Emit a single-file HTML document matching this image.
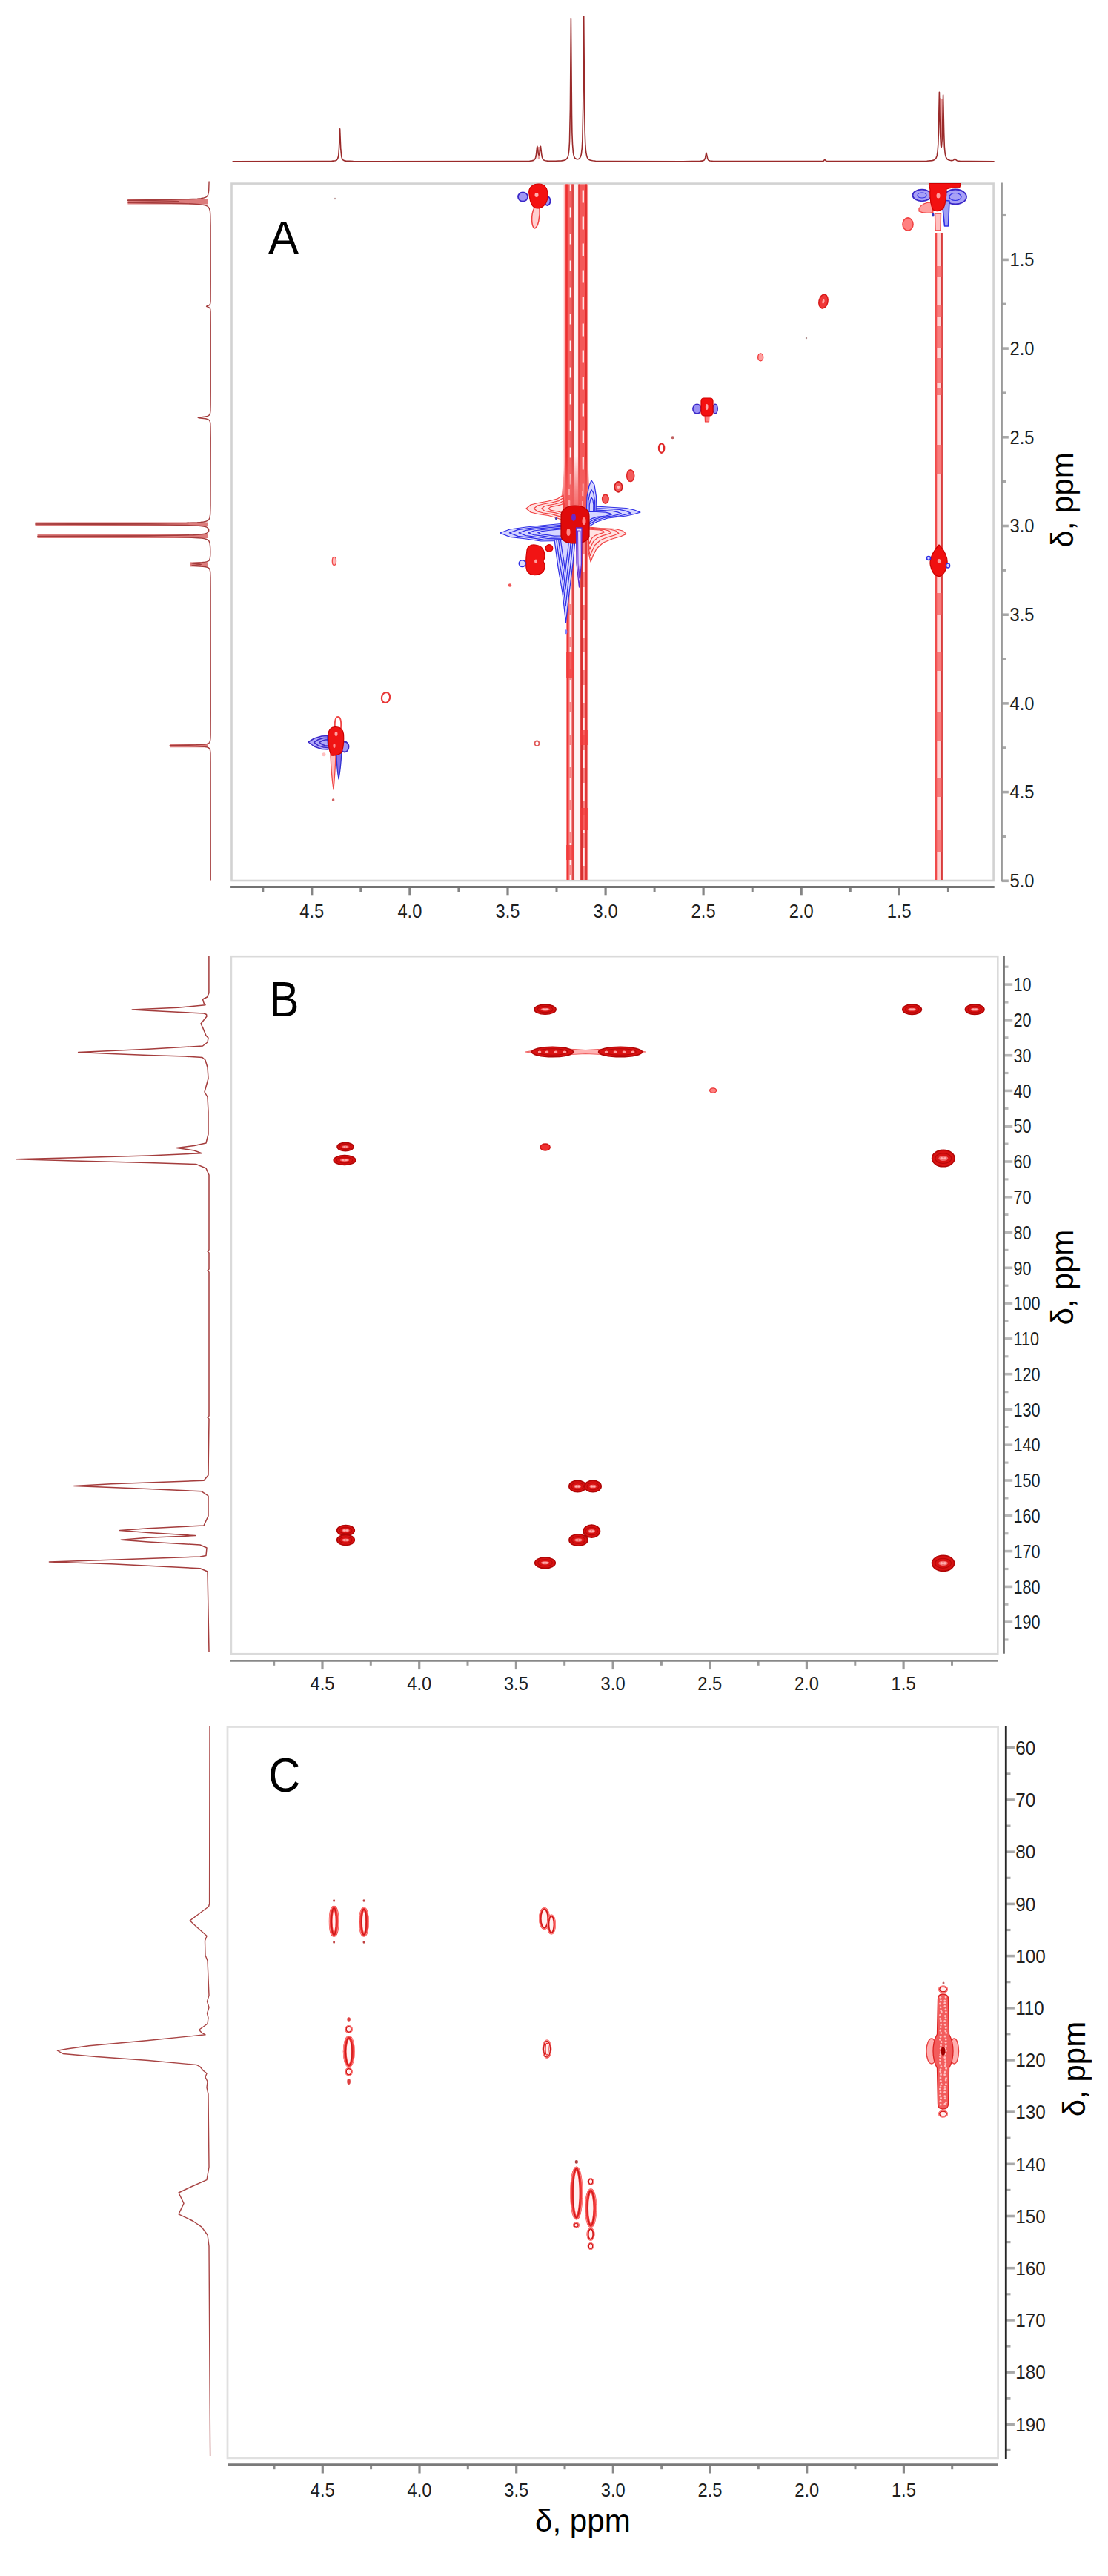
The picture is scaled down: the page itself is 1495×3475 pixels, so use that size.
<!DOCTYPE html><html><head><meta charset="utf-8"><style>html,body{margin:0;padding:0;background:#fff;overflow:hidden}svg{display:block}text{font-family:"Liberation Sans",sans-serif}</style></head><body>
<svg width="1495" height="3475" viewBox="0 0 1495 3475">
<rect width="1495" height="3475" fill="#fff"/>
<rect x="312.5" y="247.6" width="1028.1" height="940.4" fill="none" stroke="#d2d2d2" stroke-width="2.6"/>
<line x1="1351.5" y1="350.4" x2="1360.8" y2="350.4" stroke="#a8a8a8" stroke-width="3.6"/>
<text transform="translate(1362.5,359.2) scale(0.93,1)" font-size="25.5" fill="#1e1e1e">1.5</text>
<line x1="1351.5" y1="470.1" x2="1360.8" y2="470.1" stroke="#a8a8a8" stroke-width="3.6"/>
<text transform="translate(1362.5,478.9) scale(0.93,1)" font-size="25.5" fill="#1e1e1e">2.0</text>
<line x1="1351.5" y1="589.8" x2="1360.8" y2="589.8" stroke="#a8a8a8" stroke-width="3.6"/>
<text transform="translate(1362.5,598.6) scale(0.93,1)" font-size="25.5" fill="#1e1e1e">2.5</text>
<line x1="1351.5" y1="709.5" x2="1360.8" y2="709.5" stroke="#a8a8a8" stroke-width="3.6"/>
<text transform="translate(1362.5,718.3) scale(0.93,1)" font-size="25.5" fill="#1e1e1e">3.0</text>
<line x1="1351.5" y1="829.2" x2="1360.8" y2="829.2" stroke="#a8a8a8" stroke-width="3.6"/>
<text transform="translate(1362.5,838) scale(0.93,1)" font-size="25.5" fill="#1e1e1e">3.5</text>
<line x1="1351.5" y1="948.9" x2="1360.8" y2="948.9" stroke="#a8a8a8" stroke-width="3.6"/>
<text transform="translate(1362.5,957.7) scale(0.93,1)" font-size="25.5" fill="#1e1e1e">4.0</text>
<line x1="1351.5" y1="1068.6" x2="1360.8" y2="1068.6" stroke="#a8a8a8" stroke-width="3.6"/>
<text transform="translate(1362.5,1077.4) scale(0.93,1)" font-size="25.5" fill="#1e1e1e">4.5</text>
<line x1="1351.5" y1="1188.3" x2="1360.8" y2="1188.3" stroke="#a8a8a8" stroke-width="3.6"/>
<text transform="translate(1362.5,1197.1) scale(0.93,1)" font-size="25.5" fill="#1e1e1e">5.0</text>
<line x1="1351.5" y1="290.5" x2="1357.1" y2="290.5" stroke="#a8a8a8" stroke-width="3.2"/>
<line x1="1351.5" y1="410.2" x2="1357.1" y2="410.2" stroke="#a8a8a8" stroke-width="3.2"/>
<line x1="1351.5" y1="530" x2="1357.1" y2="530" stroke="#a8a8a8" stroke-width="3.2"/>
<line x1="1351.5" y1="649.6" x2="1357.1" y2="649.6" stroke="#a8a8a8" stroke-width="3.2"/>
<line x1="1351.5" y1="769.3" x2="1357.1" y2="769.3" stroke="#a8a8a8" stroke-width="3.2"/>
<line x1="1351.5" y1="889" x2="1357.1" y2="889" stroke="#a8a8a8" stroke-width="3.2"/>
<line x1="1351.5" y1="1008.8" x2="1357.1" y2="1008.8" stroke="#a8a8a8" stroke-width="3.2"/>
<line x1="1351.5" y1="1128.5" x2="1357.1" y2="1128.5" stroke="#a8a8a8" stroke-width="3.2"/>
<line x1="1351.5" y1="246.5" x2="1351.5" y2="1188.5" stroke="#9a9a9a" stroke-width="2.8"/>
<line x1="420.8" y1="1196.5" x2="420.8" y2="1208.3" stroke="#858585" stroke-width="3.2"/>
<text transform="translate(420.8,1237.5) scale(0.93,1)" font-size="25.5" fill="#1e1e1e" text-anchor="middle">4.5</text>
<line x1="552.9" y1="1196.5" x2="552.9" y2="1208.3" stroke="#858585" stroke-width="3.2"/>
<text transform="translate(552.9,1237.5) scale(0.93,1)" font-size="25.5" fill="#1e1e1e" text-anchor="middle">4.0</text>
<line x1="685" y1="1196.5" x2="685" y2="1208.3" stroke="#858585" stroke-width="3.2"/>
<text transform="translate(685,1237.5) scale(0.93,1)" font-size="25.5" fill="#1e1e1e" text-anchor="middle">3.5</text>
<line x1="817.1" y1="1196.5" x2="817.1" y2="1208.3" stroke="#858585" stroke-width="3.2"/>
<text transform="translate(817.1,1237.5) scale(0.93,1)" font-size="25.5" fill="#1e1e1e" text-anchor="middle">3.0</text>
<line x1="949.1" y1="1196.5" x2="949.1" y2="1208.3" stroke="#858585" stroke-width="3.2"/>
<text transform="translate(949.1,1237.5) scale(0.93,1)" font-size="25.5" fill="#1e1e1e" text-anchor="middle">2.5</text>
<line x1="1081.2" y1="1196.5" x2="1081.2" y2="1208.3" stroke="#858585" stroke-width="3.2"/>
<text transform="translate(1081.2,1237.5) scale(0.93,1)" font-size="25.5" fill="#1e1e1e" text-anchor="middle">2.0</text>
<line x1="1213.3" y1="1196.5" x2="1213.3" y2="1208.3" stroke="#858585" stroke-width="3.2"/>
<text transform="translate(1213.3,1237.5) scale(0.93,1)" font-size="25.5" fill="#1e1e1e" text-anchor="middle">1.5</text>
<line x1="354.8" y1="1196.5" x2="354.8" y2="1203" stroke="#858585" stroke-width="3"/>
<line x1="486.8" y1="1196.5" x2="486.8" y2="1203" stroke="#858585" stroke-width="3"/>
<line x1="618.9" y1="1196.5" x2="618.9" y2="1203" stroke="#858585" stroke-width="3"/>
<line x1="751" y1="1196.5" x2="751" y2="1203" stroke="#858585" stroke-width="3"/>
<line x1="883.1" y1="1196.5" x2="883.1" y2="1203" stroke="#858585" stroke-width="3"/>
<line x1="1015.2" y1="1196.5" x2="1015.2" y2="1203" stroke="#858585" stroke-width="3"/>
<line x1="1147.3" y1="1196.5" x2="1147.3" y2="1203" stroke="#858585" stroke-width="3"/>
<line x1="1279.4" y1="1196.5" x2="1279.4" y2="1203" stroke="#858585" stroke-width="3"/>
<line x1="311.1" y1="1196.5" x2="1341.7" y2="1196.5" stroke="#727272" stroke-width="2.8"/>
<rect x="311.9" y="1290.2" width="1034.4" height="941" fill="none" stroke="#dadada" stroke-width="2.6"/>
<line x1="1354.5" y1="1328.1" x2="1366.2" y2="1328.1" stroke="#b8b8b8" stroke-width="3.6"/>
<text transform="translate(1367.5,1337.3) scale(0.85,1)" font-size="25.5" fill="#1e1e1e">10</text>
<line x1="1354.5" y1="1375.9" x2="1366.2" y2="1375.9" stroke="#b8b8b8" stroke-width="3.6"/>
<text transform="translate(1367.5,1385.1) scale(0.85,1)" font-size="25.5" fill="#1e1e1e">20</text>
<line x1="1354.5" y1="1423.7" x2="1366.2" y2="1423.7" stroke="#b8b8b8" stroke-width="3.6"/>
<text transform="translate(1367.5,1432.9) scale(0.85,1)" font-size="25.5" fill="#1e1e1e">30</text>
<line x1="1354.5" y1="1471.4" x2="1366.2" y2="1471.4" stroke="#b8b8b8" stroke-width="3.6"/>
<text transform="translate(1367.5,1480.6) scale(0.85,1)" font-size="25.5" fill="#1e1e1e">40</text>
<line x1="1354.5" y1="1519.2" x2="1366.2" y2="1519.2" stroke="#b8b8b8" stroke-width="3.6"/>
<text transform="translate(1367.5,1528.4) scale(0.85,1)" font-size="25.5" fill="#1e1e1e">50</text>
<line x1="1354.5" y1="1567" x2="1366.2" y2="1567" stroke="#b8b8b8" stroke-width="3.6"/>
<text transform="translate(1367.5,1576.2) scale(0.85,1)" font-size="25.5" fill="#1e1e1e">60</text>
<line x1="1354.5" y1="1614.8" x2="1366.2" y2="1614.8" stroke="#b8b8b8" stroke-width="3.6"/>
<text transform="translate(1367.5,1624) scale(0.85,1)" font-size="25.5" fill="#1e1e1e">70</text>
<line x1="1354.5" y1="1662.6" x2="1366.2" y2="1662.6" stroke="#b8b8b8" stroke-width="3.6"/>
<text transform="translate(1367.5,1671.8) scale(0.85,1)" font-size="25.5" fill="#1e1e1e">80</text>
<line x1="1354.5" y1="1710.3" x2="1366.2" y2="1710.3" stroke="#b8b8b8" stroke-width="3.6"/>
<text transform="translate(1367.5,1719.5) scale(0.85,1)" font-size="25.5" fill="#1e1e1e">90</text>
<line x1="1354.5" y1="1758.1" x2="1366.2" y2="1758.1" stroke="#b8b8b8" stroke-width="3.6"/>
<text transform="translate(1367.5,1767.3) scale(0.85,1)" font-size="25.5" fill="#1e1e1e">100</text>
<line x1="1354.5" y1="1805.9" x2="1366.2" y2="1805.9" stroke="#b8b8b8" stroke-width="3.6"/>
<text transform="translate(1367.5,1815.1) scale(0.85,1)" font-size="25.5" fill="#1e1e1e">110</text>
<line x1="1354.5" y1="1853.7" x2="1366.2" y2="1853.7" stroke="#b8b8b8" stroke-width="3.6"/>
<text transform="translate(1367.5,1862.9) scale(0.85,1)" font-size="25.5" fill="#1e1e1e">120</text>
<line x1="1354.5" y1="1901.5" x2="1366.2" y2="1901.5" stroke="#b8b8b8" stroke-width="3.6"/>
<text transform="translate(1367.5,1910.7) scale(0.85,1)" font-size="25.5" fill="#1e1e1e">130</text>
<line x1="1354.5" y1="1949.2" x2="1366.2" y2="1949.2" stroke="#b8b8b8" stroke-width="3.6"/>
<text transform="translate(1367.5,1958.4) scale(0.85,1)" font-size="25.5" fill="#1e1e1e">140</text>
<line x1="1354.5" y1="1997" x2="1366.2" y2="1997" stroke="#b8b8b8" stroke-width="3.6"/>
<text transform="translate(1367.5,2006.2) scale(0.85,1)" font-size="25.5" fill="#1e1e1e">150</text>
<line x1="1354.5" y1="2044.8" x2="1366.2" y2="2044.8" stroke="#b8b8b8" stroke-width="3.6"/>
<text transform="translate(1367.5,2054) scale(0.85,1)" font-size="25.5" fill="#1e1e1e">160</text>
<line x1="1354.5" y1="2092.6" x2="1366.2" y2="2092.6" stroke="#b8b8b8" stroke-width="3.6"/>
<text transform="translate(1367.5,2101.8) scale(0.85,1)" font-size="25.5" fill="#1e1e1e">170</text>
<line x1="1354.5" y1="2140.4" x2="1366.2" y2="2140.4" stroke="#b8b8b8" stroke-width="3.6"/>
<text transform="translate(1367.5,2149.6) scale(0.85,1)" font-size="25.5" fill="#1e1e1e">180</text>
<line x1="1354.5" y1="2188.1" x2="1366.2" y2="2188.1" stroke="#b8b8b8" stroke-width="3.6"/>
<text transform="translate(1367.5,2197.3) scale(0.85,1)" font-size="25.5" fill="#1e1e1e">190</text>
<line x1="1354.5" y1="1304.2" x2="1360.5" y2="1304.2" stroke="#b8b8b8" stroke-width="3.2"/>
<line x1="1354.5" y1="1352" x2="1360.5" y2="1352" stroke="#b8b8b8" stroke-width="3.2"/>
<line x1="1354.5" y1="1399.8" x2="1360.5" y2="1399.8" stroke="#b8b8b8" stroke-width="3.2"/>
<line x1="1354.5" y1="1447.5" x2="1360.5" y2="1447.5" stroke="#b8b8b8" stroke-width="3.2"/>
<line x1="1354.5" y1="1495.3" x2="1360.5" y2="1495.3" stroke="#b8b8b8" stroke-width="3.2"/>
<line x1="1354.5" y1="1543.1" x2="1360.5" y2="1543.1" stroke="#b8b8b8" stroke-width="3.2"/>
<line x1="1354.5" y1="1590.9" x2="1360.5" y2="1590.9" stroke="#b8b8b8" stroke-width="3.2"/>
<line x1="1354.5" y1="1638.7" x2="1360.5" y2="1638.7" stroke="#b8b8b8" stroke-width="3.2"/>
<line x1="1354.5" y1="1686.4" x2="1360.5" y2="1686.4" stroke="#b8b8b8" stroke-width="3.2"/>
<line x1="1354.5" y1="1734.2" x2="1360.5" y2="1734.2" stroke="#b8b8b8" stroke-width="3.2"/>
<line x1="1354.5" y1="1782" x2="1360.5" y2="1782" stroke="#b8b8b8" stroke-width="3.2"/>
<line x1="1354.5" y1="1829.8" x2="1360.5" y2="1829.8" stroke="#b8b8b8" stroke-width="3.2"/>
<line x1="1354.5" y1="1877.6" x2="1360.5" y2="1877.6" stroke="#b8b8b8" stroke-width="3.2"/>
<line x1="1354.5" y1="1925.3" x2="1360.5" y2="1925.3" stroke="#b8b8b8" stroke-width="3.2"/>
<line x1="1354.5" y1="1973.1" x2="1360.5" y2="1973.1" stroke="#b8b8b8" stroke-width="3.2"/>
<line x1="1354.5" y1="2020.9" x2="1360.5" y2="2020.9" stroke="#b8b8b8" stroke-width="3.2"/>
<line x1="1354.5" y1="2068.7" x2="1360.5" y2="2068.7" stroke="#b8b8b8" stroke-width="3.2"/>
<line x1="1354.5" y1="2116.5" x2="1360.5" y2="2116.5" stroke="#b8b8b8" stroke-width="3.2"/>
<line x1="1354.5" y1="2164.2" x2="1360.5" y2="2164.2" stroke="#b8b8b8" stroke-width="3.2"/>
<line x1="1354.5" y1="2212" x2="1360.5" y2="2212" stroke="#b8b8b8" stroke-width="3.2"/>
<line x1="1354.5" y1="1289" x2="1354.5" y2="2230.8" stroke="#777" stroke-width="2.8"/>
<line x1="435" y1="2240.3" x2="435" y2="2252.1" stroke="#9a9a9a" stroke-width="3.2"/>
<text transform="translate(435,2280) scale(0.93,1)" font-size="25.5" fill="#1e1e1e" text-anchor="middle">4.5</text>
<line x1="565.7" y1="2240.3" x2="565.7" y2="2252.1" stroke="#9a9a9a" stroke-width="3.2"/>
<text transform="translate(565.7,2280) scale(0.93,1)" font-size="25.5" fill="#1e1e1e" text-anchor="middle">4.0</text>
<line x1="696.4" y1="2240.3" x2="696.4" y2="2252.1" stroke="#9a9a9a" stroke-width="3.2"/>
<text transform="translate(696.4,2280) scale(0.93,1)" font-size="25.5" fill="#1e1e1e" text-anchor="middle">3.5</text>
<line x1="827.1" y1="2240.3" x2="827.1" y2="2252.1" stroke="#9a9a9a" stroke-width="3.2"/>
<text transform="translate(827.1,2280) scale(0.93,1)" font-size="25.5" fill="#1e1e1e" text-anchor="middle">3.0</text>
<line x1="957.7" y1="2240.3" x2="957.7" y2="2252.1" stroke="#9a9a9a" stroke-width="3.2"/>
<text transform="translate(957.7,2280) scale(0.93,1)" font-size="25.5" fill="#1e1e1e" text-anchor="middle">2.5</text>
<line x1="1088.4" y1="2240.3" x2="1088.4" y2="2252.1" stroke="#9a9a9a" stroke-width="3.2"/>
<text transform="translate(1088.4,2280) scale(0.93,1)" font-size="25.5" fill="#1e1e1e" text-anchor="middle">2.0</text>
<line x1="1219.1" y1="2240.3" x2="1219.1" y2="2252.1" stroke="#9a9a9a" stroke-width="3.2"/>
<text transform="translate(1219.1,2280) scale(0.93,1)" font-size="25.5" fill="#1e1e1e" text-anchor="middle">1.5</text>
<line x1="369.7" y1="2240.3" x2="369.7" y2="2246.8" stroke="#9a9a9a" stroke-width="3"/>
<line x1="500.3" y1="2240.3" x2="500.3" y2="2246.8" stroke="#9a9a9a" stroke-width="3"/>
<line x1="631" y1="2240.3" x2="631" y2="2246.8" stroke="#9a9a9a" stroke-width="3"/>
<line x1="761.7" y1="2240.3" x2="761.7" y2="2246.8" stroke="#9a9a9a" stroke-width="3"/>
<line x1="892.4" y1="2240.3" x2="892.4" y2="2246.8" stroke="#9a9a9a" stroke-width="3"/>
<line x1="1023.1" y1="2240.3" x2="1023.1" y2="2246.8" stroke="#9a9a9a" stroke-width="3"/>
<line x1="1153.8" y1="2240.3" x2="1153.8" y2="2246.8" stroke="#9a9a9a" stroke-width="3"/>
<line x1="1284.5" y1="2240.3" x2="1284.5" y2="2246.8" stroke="#9a9a9a" stroke-width="3"/>
<line x1="310.3" y1="2240.3" x2="1347" y2="2240.3" stroke="#888" stroke-width="2.8"/>
<rect x="307" y="2329.5" width="1039.6" height="986.3" fill="none" stroke="#e0e0e0" stroke-width="2.8"/>
<line x1="1357.3" y1="2357.8" x2="1368.9" y2="2357.8" stroke="#a8a8a8" stroke-width="3.6"/>
<text transform="translate(1370.2,2367) scale(0.95,1)" font-size="25.5" fill="#1e1e1e">60</text>
<line x1="1357.3" y1="2428" x2="1368.9" y2="2428" stroke="#a8a8a8" stroke-width="3.6"/>
<text transform="translate(1370.2,2437.2) scale(0.95,1)" font-size="25.5" fill="#1e1e1e">70</text>
<line x1="1357.3" y1="2498.2" x2="1368.9" y2="2498.2" stroke="#a8a8a8" stroke-width="3.6"/>
<text transform="translate(1370.2,2507.4) scale(0.95,1)" font-size="25.5" fill="#1e1e1e">80</text>
<line x1="1357.3" y1="2568.4" x2="1368.9" y2="2568.4" stroke="#a8a8a8" stroke-width="3.6"/>
<text transform="translate(1370.2,2577.6) scale(0.95,1)" font-size="25.5" fill="#1e1e1e">90</text>
<line x1="1357.3" y1="2638.6" x2="1368.9" y2="2638.6" stroke="#a8a8a8" stroke-width="3.6"/>
<text transform="translate(1370.2,2647.8) scale(0.95,1)" font-size="25.5" fill="#1e1e1e">100</text>
<line x1="1357.3" y1="2708.8" x2="1368.9" y2="2708.8" stroke="#a8a8a8" stroke-width="3.6"/>
<text transform="translate(1370.2,2717.9) scale(0.95,1)" font-size="25.5" fill="#1e1e1e">110</text>
<line x1="1357.3" y1="2778.9" x2="1368.9" y2="2778.9" stroke="#a8a8a8" stroke-width="3.6"/>
<text transform="translate(1370.2,2788.1) scale(0.95,1)" font-size="25.5" fill="#1e1e1e">120</text>
<line x1="1357.3" y1="2849.1" x2="1368.9" y2="2849.1" stroke="#a8a8a8" stroke-width="3.6"/>
<text transform="translate(1370.2,2858.3) scale(0.95,1)" font-size="25.5" fill="#1e1e1e">130</text>
<line x1="1357.3" y1="2919.3" x2="1368.9" y2="2919.3" stroke="#a8a8a8" stroke-width="3.6"/>
<text transform="translate(1370.2,2928.5) scale(0.95,1)" font-size="25.5" fill="#1e1e1e">140</text>
<line x1="1357.3" y1="2989.5" x2="1368.9" y2="2989.5" stroke="#a8a8a8" stroke-width="3.6"/>
<text transform="translate(1370.2,2998.7) scale(0.95,1)" font-size="25.5" fill="#1e1e1e">150</text>
<line x1="1357.3" y1="3059.7" x2="1368.9" y2="3059.7" stroke="#a8a8a8" stroke-width="3.6"/>
<text transform="translate(1370.2,3068.9) scale(0.95,1)" font-size="25.5" fill="#1e1e1e">160</text>
<line x1="1357.3" y1="3129.9" x2="1368.9" y2="3129.9" stroke="#a8a8a8" stroke-width="3.6"/>
<text transform="translate(1370.2,3139.1) scale(0.95,1)" font-size="25.5" fill="#1e1e1e">170</text>
<line x1="1357.3" y1="3200.1" x2="1368.9" y2="3200.1" stroke="#a8a8a8" stroke-width="3.6"/>
<text transform="translate(1370.2,3209.3) scale(0.95,1)" font-size="25.5" fill="#1e1e1e">180</text>
<line x1="1357.3" y1="3270.3" x2="1368.9" y2="3270.3" stroke="#a8a8a8" stroke-width="3.6"/>
<text transform="translate(1370.2,3279.5) scale(0.95,1)" font-size="25.5" fill="#1e1e1e">190</text>
<line x1="1357.3" y1="2392.9" x2="1363.5" y2="2392.9" stroke="#a8a8a8" stroke-width="3.2"/>
<line x1="1357.3" y1="2463.1" x2="1363.5" y2="2463.1" stroke="#a8a8a8" stroke-width="3.2"/>
<line x1="1357.3" y1="2533.3" x2="1363.5" y2="2533.3" stroke="#a8a8a8" stroke-width="3.2"/>
<line x1="1357.3" y1="2603.5" x2="1363.5" y2="2603.5" stroke="#a8a8a8" stroke-width="3.2"/>
<line x1="1357.3" y1="2673.7" x2="1363.5" y2="2673.7" stroke="#a8a8a8" stroke-width="3.2"/>
<line x1="1357.3" y1="2743.8" x2="1363.5" y2="2743.8" stroke="#a8a8a8" stroke-width="3.2"/>
<line x1="1357.3" y1="2814" x2="1363.5" y2="2814" stroke="#a8a8a8" stroke-width="3.2"/>
<line x1="1357.3" y1="2884.2" x2="1363.5" y2="2884.2" stroke="#a8a8a8" stroke-width="3.2"/>
<line x1="1357.3" y1="2954.4" x2="1363.5" y2="2954.4" stroke="#a8a8a8" stroke-width="3.2"/>
<line x1="1357.3" y1="3024.6" x2="1363.5" y2="3024.6" stroke="#a8a8a8" stroke-width="3.2"/>
<line x1="1357.3" y1="3094.8" x2="1363.5" y2="3094.8" stroke="#a8a8a8" stroke-width="3.2"/>
<line x1="1357.3" y1="3165" x2="1363.5" y2="3165" stroke="#a8a8a8" stroke-width="3.2"/>
<line x1="1357.3" y1="3235.2" x2="1363.5" y2="3235.2" stroke="#a8a8a8" stroke-width="3.2"/>
<line x1="1357.3" y1="3305.4" x2="1363.5" y2="3305.4" stroke="#a8a8a8" stroke-width="3.2"/>
<line x1="1357.3" y1="2329" x2="1357.3" y2="3317" stroke="#252525" stroke-width="2.8"/>
<line x1="435.3" y1="3324.7" x2="435.3" y2="3336.5" stroke="#8a8a8a" stroke-width="3.2"/>
<text transform="translate(435.3,3367.5) scale(0.93,1)" font-size="25.5" fill="#1e1e1e" text-anchor="middle">4.5</text>
<line x1="566" y1="3324.7" x2="566" y2="3336.5" stroke="#8a8a8a" stroke-width="3.2"/>
<text transform="translate(566,3367.5) scale(0.93,1)" font-size="25.5" fill="#1e1e1e" text-anchor="middle">4.0</text>
<line x1="696.7" y1="3324.7" x2="696.7" y2="3336.5" stroke="#8a8a8a" stroke-width="3.2"/>
<text transform="translate(696.7,3367.5) scale(0.93,1)" font-size="25.5" fill="#1e1e1e" text-anchor="middle">3.5</text>
<line x1="827.3" y1="3324.7" x2="827.3" y2="3336.5" stroke="#8a8a8a" stroke-width="3.2"/>
<text transform="translate(827.3,3367.5) scale(0.93,1)" font-size="25.5" fill="#1e1e1e" text-anchor="middle">3.0</text>
<line x1="958" y1="3324.7" x2="958" y2="3336.5" stroke="#8a8a8a" stroke-width="3.2"/>
<text transform="translate(958,3367.5) scale(0.93,1)" font-size="25.5" fill="#1e1e1e" text-anchor="middle">2.5</text>
<line x1="1088.7" y1="3324.7" x2="1088.7" y2="3336.5" stroke="#8a8a8a" stroke-width="3.2"/>
<text transform="translate(1088.7,3367.5) scale(0.93,1)" font-size="25.5" fill="#1e1e1e" text-anchor="middle">2.0</text>
<line x1="1219.4" y1="3324.7" x2="1219.4" y2="3336.5" stroke="#8a8a8a" stroke-width="3.2"/>
<text transform="translate(1219.4,3367.5) scale(0.93,1)" font-size="25.5" fill="#1e1e1e" text-anchor="middle">1.5</text>
<line x1="370" y1="3324.7" x2="370" y2="3331.2" stroke="#8a8a8a" stroke-width="3"/>
<line x1="500.6" y1="3324.7" x2="500.6" y2="3331.2" stroke="#8a8a8a" stroke-width="3"/>
<line x1="631.3" y1="3324.7" x2="631.3" y2="3331.2" stroke="#8a8a8a" stroke-width="3"/>
<line x1="762" y1="3324.7" x2="762" y2="3331.2" stroke="#8a8a8a" stroke-width="3"/>
<line x1="892.7" y1="3324.7" x2="892.7" y2="3331.2" stroke="#8a8a8a" stroke-width="3"/>
<line x1="1023.3" y1="3324.7" x2="1023.3" y2="3331.2" stroke="#8a8a8a" stroke-width="3"/>
<line x1="1154" y1="3324.7" x2="1154" y2="3331.2" stroke="#8a8a8a" stroke-width="3"/>
<line x1="1284.7" y1="3324.7" x2="1284.7" y2="3331.2" stroke="#8a8a8a" stroke-width="3"/>
<line x1="307.6" y1="3324.7" x2="1347" y2="3324.7" stroke="#7a7a7a" stroke-width="2.8"/>
<text transform="translate(362.1,341.8) scale(0.615,0.633)" font-size="100" fill="#000">A</text>
<text transform="translate(363.2,1371.3) scale(0.604,0.661)" font-size="100" fill="#000">B</text>
<text transform="translate(362.3,2417.1) scale(0.594,0.649)" font-size="100" fill="#000">C</text>
<text transform="translate(1447.6,738.7) rotate(-90) scale(0.4203,0.43)" font-size="100" fill="#000">δ, ppm</text>
<text transform="translate(1448,1787.5) rotate(-90) scale(0.4217,0.43)" font-size="100" fill="#000">δ, ppm</text>
<text transform="translate(1463.9,2855.2) rotate(-90) scale(0.4200,0.43)" font-size="100" fill="#000">δ, ppm</text>
<text transform="translate(722,3415.4) scale(0.421,0.43)" font-size="100" fill="#000">δ, ppm</text>
<path d="M1268,132 L1272,134 L1270.7,196 L1269.3,196 Z" fill="#eaa0a0"/>
<path d="M725.5,198 L728.5,198 L728.3,214 L725.7,214 Z" fill="#eaa0a0"/>
<path d="M313.6,217.7 L436.6,217.6 L447.6,217.4 L452.6,216.7 L454.2,216 L455.4,214.5 L456.1,212.6 L456.8,209.2 L457.5,199.7 L458.6,173.7 L459.8,201.7 L460.8,211.2 L461.5,213.9 L462.6,215.6 L464.2,216.6 L466.6,217.1 L476.6,217.6 L510.6,217.7 L685.6,217.6 L705.6,217.5 L714.6,217.3 L717.7,216.9 L719.7,216.4 L721,215.6 L722.1,214.3 L722.7,212.5 L723.3,210 L724.6,198.6 L724.9,197.4 L726.2,206.7 L726.7,208.5 L727.1,209.2 L727.5,208.8 L728,207.3 L729.1,198.2 L729.4,197.3 L729.5,197.6 L730.7,207.8 L731.4,211.9 L732.5,214.7 L733.3,215.6 L734.3,216.2 L736,216.7 L738.6,217.1 L749.6,217.3 L757.6,216.9 L760.6,216.4 L762.6,215.7 L763.6,215.2 L765.2,213.5 L766.1,211.8 L766.8,209.4 L767.8,202.7 L768.5,191.1 L769.4,147 L770.4,24.5 L771.5,154.5 L771.9,179.9 L772.5,194.8 L773.4,205.6 L774,209.1 L774.7,211.4 L775.8,213.3 L777.6,214.5 L779.6,214.7 L780.6,214.5 L781.6,213.9 L782.8,212.4 L783.6,210.6 L784.3,208.1 L785.3,200.2 L785.9,188.3 L786.7,146 L787.7,21.8 L788.7,146.1 L789.1,175.7 L789.7,192.9 L790.5,204.2 L791.7,210.7 L792.5,212.7 L793.6,214.4 L794.6,215.2 L796.6,216.2 L799.6,216.8 L803.6,217.2 L819.6,217.5 L921.6,217.7 L945.1,217.4 L948.7,216.9 L949.7,216.4 L950.5,215.5 L951.6,213 L952.6,207.3 L953,206.2 L954.6,213.5 L955.7,215.8 L956.6,216.5 L957.9,217 L962.6,217.5 L1106.1,217.6 L1109.2,217.5 L1110.8,217.2 L1111.6,216.7 L1112.8,215.2 L1114.1,216.8 L1115.1,217.3 L1120.6,217.6 L1235.6,217.6 L1250.6,217.3 L1257.6,216.6 L1259.6,216.1 L1260.9,215.5 L1262.1,214.5 L1263,213.3 L1264.3,209.7 L1265.1,204.1 L1265.8,194.7 L1266.2,182.9 L1267.4,124.2 L1268.6,180.4 L1269.5,196.4 L1269.9,198.5 L1270.1,198.6 L1270.4,197.6 L1271.2,187.9 L1272.6,128 L1273.7,179.4 L1274.3,197.6 L1274.8,203.5 L1275.4,208.4 L1276.3,211.8 L1277.5,214 L1278.5,215.1 L1279.9,215.8 L1281.7,216.3 L1283.8,216.6 L1286.2,216.2 L1287.1,215.6 L1288.1,214.4 L1288.6,214.3 L1290.1,215.9 L1291.2,216.7 L1292.8,217.1 L1295.3,217.3 L1307.6,217.6 L1341.6,217.7" fill="none" stroke="#9a2a2a" stroke-width="1.6" stroke-linejoin="round" />
<line x1="172.4" y1="271.8" x2="281" y2="271.8" stroke="#dc7c7c" stroke-width="7.5"/>
<line x1="47.5" y1="707" x2="281" y2="707" stroke="#dc7c7c" stroke-width="5.2"/>
<line x1="50.5" y1="723.5" x2="281" y2="723.5" stroke="#dc7c7c" stroke-width="5.2"/>
<line x1="229.1" y1="1005.7" x2="281" y2="1005.7" stroke="#dc7c7c" stroke-width="5.2"/>
<line x1="256.7" y1="761.4" x2="281" y2="761.4" stroke="#dc7c7c" stroke-width="6"/>
<path d="M282.1,244.4 L281.7,256.4 L281.4,259.4 L280.7,262.4 L280.3,263.4 L279.7,264.4 L278.9,265.3 L277.2,266.3 L274.8,267 L271,267.7 L266.2,268.2 L251.2,268.9 L230.3,269.3 L182.7,269.9 L171.9,270.2 L178.4,270.4 L225.5,271.1 L235.9,271.4 L240.8,271.7 L241.3,271.8 L241.3,271.9 L239.5,272.1 L230.4,272.4 L179.5,273.2 L173.1,273.4 L244.8,274.5 L259.8,275 L268.9,275.6 L275.3,276.5 L277.4,277.1 L279.2,277.8 L280.8,279 L281.9,280.4 L282.4,281.4 L283.1,283.4 L283.4,284.4 L283.8,290.4 L284.1,304.4 L284.2,378.4 L284.1,405.7 L283.8,409.1 L283.5,410.1 L283.1,410.9 L281.9,411.9 L278.9,413 L278.6,413.3 L278.9,413.6 L281.9,414.7 L283.1,415.8 L283.5,416.5 L283.8,417.5 L284.1,420.8 L284.2,437.4 L284.2,528.4 L284.1,546.4 L283.9,554.4 L283.6,557.1 L283.1,558.8 L282.4,559.9 L281.2,560.8 L279.7,561.4 L277.2,562 L268.1,563.1 L267.2,563.4 L268.1,563.7 L277.2,564.8 L279.2,565.3 L280.9,565.9 L282.1,566.6 L282.9,567.6 L283.4,568.9 L283.8,570.9 L284,576.4 L284.2,590.4 L284,681.4 L283.8,689.4 L283.6,694.4 L282.9,698.4 L282.1,700.4 L281.3,701.4 L279.5,702.7 L277.3,703.5 L274.6,704 L270.6,704.5 L266,704.9 L251.7,705.5 L228.3,705.9 L197.6,706.2 L47.9,707 L197.5,707.8 L228.2,708.1 L251.6,708.5 L265.8,709.1 L270.4,709.5 L274.3,710 L277.1,710.5 L279,711.2 L280.6,712.4 L281.3,713.4 L281.6,714.4 L281.7,715.4 L281.6,716.4 L281.2,717.4 L280.3,718.4 L278.4,719.5 L276,720.3 L272.4,720.8 L267.1,721.3 L260.5,721.7 L238.4,722.3 L207.5,722.6 L50.9,723.5 L198.6,724.3 L234,724.6 L254.5,725.1 L267.2,725.7 L272.1,726.1 L275.5,726.6 L277.9,727.2 L279.6,727.8 L280.5,728.4 L281.6,729.4 L282.2,730.4 L283,732.4 L283.4,735.4 L283.7,739.4 L283.8,744.4 L283.7,749.4 L283.4,752.4 L283,754.4 L282.4,755.7 L281.6,756.5 L280.5,757.2 L279,757.7 L277.2,758.1 L272.3,758.7 L259.1,759.8 L259.1,759.9 L260,760 L269.3,760.9 L270.7,761.1 L271.2,761.4 L270.7,761.7 L269.3,761.9 L260,762.8 L259.1,763 L261,763.3 L273.9,764.2 L277.4,764.7 L279.8,765.3 L281.5,766.2 L282.6,767.3 L283.2,769 L283.7,771.4 L284,779.4 L284.1,796.4 L284.2,960.4 L284.1,991.4 L283.9,996.4 L283.5,999.4 L282.8,1001.3 L282.3,1002 L281.5,1002.6 L279.4,1003.4 L276.1,1004 L271.2,1004.4 L264,1004.8 L229.2,1005.7 L264,1006.6 L275.4,1007.3 L279.1,1007.9 L281.2,1008.6 L282.6,1009.7 L283.4,1011.4 L283.7,1013.4 L284,1016.4 L284.1,1028.4 L284.2,1187.4" fill="none" stroke="#a43c3c" stroke-width="1.4" stroke-linejoin="round" />
<path d="M281.9,1290 L281.9,1339.4 L279.5,1345 L273.5,1348 L275,1353 L277,1355.7 L240,1359.3 L200,1361 L178.3,1361.9 L200,1363.3 L240,1365.3 L275,1367 L278.5,1368.5 L279,1371 L271,1381 L273.5,1386 L278,1397 L281,1400 L280,1406 L273.5,1411 L200,1415.3 L150,1417.6 L105.6,1419.5 L150,1421.5 L200,1423.5 L250,1425 L273,1426.5 L277,1430 L280,1440 L281,1455 L276,1473 L280,1480 L281,1500 L281,1530 L278,1542 L262,1545.5 L238.3,1548.4 L262,1552 L272,1555.7 L200,1559 L100,1561.8 L22.2,1563.8 L100,1566 L200,1568.5 L265,1570.6 L278,1576 L282,1585 L282,1686 L280,1688 L282,1690 L282,1712 L280,1714 L282,1716 L282,1910 L280,1912 L282,1914 L281,1990 L275,1997.3 L150,2001.8 L99.6,2004.5 L150,2006.5 L200,2008.5 L272,2011.8 L281,2018 L281,2045 L275,2058 L200,2061.8 L161.7,2064.6 L200,2067.5 L263.4,2071.6 L200,2074.2 L163.2,2077.3 L200,2080 L270,2084 L279,2088 L278,2098.4 L270,2100 L150,2104.2 L66.4,2107 L150,2109.8 L270,2115.7 L280,2120 L282,2228.4" fill="none" stroke="#a43c3c" stroke-width="1.5" stroke-linejoin="round" />
<path d="M283,2328.7 L282.6,2568 L281.5,2572 L268,2582 L256.3,2590.9 L266,2600 L279.1,2611.5 L276.5,2618 L277,2637.5 L280,2645 L282,2691.6 L279.5,2700 L282,2708 L279.5,2716 L281,2722 L280,2730 L268.5,2738.3 L272,2742 L277,2744.8 L200,2752.5 L120,2759.8 L90,2764 L77.4,2766.2 L85,2770.5 L130,2774.5 L200,2779.5 L265,2785.4 L270,2788 L274,2793 L279,2797 L277,2802 L280,2808 L279,2816 L281,2825 L282,2923.3 L279,2940.6 L260,2949 L241,2958 L248,2972.4 L241,2986.9 L260,2996 L272,3004.2 L280,3015 L282,3030 L283.6,3313" fill="none" stroke="#a84444" stroke-width="1.4" stroke-linejoin="round" />
<g>
<rect x="760.6" y="248.5" width="14.6" height="451.5" fill="#ffc0c0"/>
<rect x="762.2" y="248.5" width="11.4" height="451.5" fill="#f26262"/>
<line x1="764.6" y1="248.5" x2="764.6" y2="700" stroke="#ee3030" stroke-width="2.4"/>
<line x1="772.8" y1="248.5" x2="772.8" y2="700" stroke="#dc4646" stroke-width="2.6"/>
<line x1="769.8" y1="248.5" x2="769.8" y2="700" stroke="#fff2f2" stroke-width="2.2" stroke-dasharray="14 22" stroke-dashoffset="5"/>
<rect x="779.5" y="248.5" width="14.6" height="451.5" fill="#ffc0c0"/>
<rect x="781.1" y="248.5" width="11.4" height="451.5" fill="#f45858"/>
<line x1="781.4" y1="248.5" x2="781.4" y2="700" stroke="#e23c3c" stroke-width="2.4"/>
<line x1="790.6" y1="248.5" x2="790.6" y2="700" stroke="#e22e2e" stroke-width="2.6"/>
<line x1="786.8" y1="248.5" x2="786.8" y2="700" stroke="#fff2f2" stroke-width="2.2" stroke-dasharray="17 19" stroke-dashoffset="-8"/>
<rect x="764" y="700" width="11.4" height="487" fill="#ffc0c0"/>
<rect x="765.6" y="700" width="8.2" height="487" fill="#f88a8a"/>
<line x1="766" y1="700" x2="766" y2="1187" stroke="#ee3434" stroke-width="2.8"/>
<line x1="773.4" y1="700" x2="773.4" y2="1187" stroke="#dc4444" stroke-width="2.6"/>
<line x1="769.8" y1="700" x2="769.8" y2="1187" stroke="#fff2f2" stroke-width="2.2" stroke-dasharray="30 14" stroke-dashoffset="3"/>
<rect x="782.6" y="700" width="11.5" height="487" fill="#ffc0c0"/>
<rect x="784.2" y="700" width="8.3" height="487" fill="#f88888"/>
<line x1="784.6" y1="700" x2="784.6" y2="1187" stroke="#d83030" stroke-width="2.8"/>
<line x1="791" y1="700" x2="791" y2="1187" stroke="#e23838" stroke-width="2.6"/>
<line x1="787.6" y1="700" x2="787.6" y2="1187" stroke="#fff2f2" stroke-width="2.2" stroke-dasharray="24 20" stroke-dashoffset="-4"/>
<rect x="775.3" y="248.5" width="4.1" height="451.5" fill="#fff0f0"/>
<rect x="775.5" y="700" width="7" height="487" fill="#fff4f4"/>
<rect x="764" y="880" width="11" height="35" fill="#f23c3c" opacity="0.8"/>
<rect x="783" y="985" width="10" height="20" fill="#f23c3c" opacity="0.8"/>
<rect x="783" y="1090" width="10" height="30" fill="#f23c3c" opacity="0.8"/>
<rect x="764" y="1140" width="11" height="20" fill="#f23c3c" opacity="0.8"/>
<rect x="1262" y="314" width="10.5" height="873" fill="#ffd2d2"/>
<line x1="1263" y1="314" x2="1263" y2="1187" stroke="#f04a4a" stroke-width="2.6"/>
<line x1="1270.6" y1="314" x2="1270.6" y2="1187" stroke="#d83c3c" stroke-width="2.6"/>
<rect x="1263" y="359" width="8" height="14" fill="#f45a5a" opacity="0.7"/>
<rect x="1263" y="412" width="8" height="15" fill="#f45a5a" opacity="0.7"/>
<rect x="1263" y="440" width="8" height="29" fill="#f45a5a" opacity="0.7"/>
<rect x="1263" y="483" width="8" height="33" fill="#f45a5a" opacity="0.7"/>
<rect x="1263" y="523" width="8" height="10" fill="#f45a5a" opacity="0.7"/>
<rect x="1263" y="600" width="8" height="40" fill="#f45a5a" opacity="0.7"/>
<rect x="1263" y="800" width="8" height="30" fill="#f45a5a" opacity="0.7"/>
<rect x="1263" y="880" width="8" height="25" fill="#f45a5a" opacity="0.7"/>
<rect x="1263" y="960" width="8" height="40" fill="#f45a5a" opacity="0.7"/>
<rect x="1263" y="1050" width="8" height="25" fill="#f45a5a" opacity="0.7"/>
<rect x="1263" y="1120" width="8" height="30" fill="#f45a5a" opacity="0.7"/>
<ellipse cx="705.5" cy="265.5" rx="6.5" ry="6.2" fill="#a098f4" stroke="#3a28c8" stroke-width="1.8"/>
<ellipse cx="738.5" cy="271" rx="4" ry="6" fill="#a098f4" stroke="#3a28c8" stroke-width="1.8"/>
<path d="M721,280 C716,290 717,305 721,308 C726,308 729,292 728,280 Z" fill="#ffd0d0" stroke="#f04040" stroke-width="1.5" stroke-linejoin="round"/>
<path d="M714,262 C712,252 720,248 727,248 C736,248 740,256 739,266 C738,276 731,281 725,281 C718,281 715,272 714,262 Z" fill="#f41010" stroke="#d00000" stroke-width="1.2" stroke-linejoin="round"/>
<ellipse cx="724" cy="263" rx="2.5" ry="3" fill="#ffb0b0" stroke="none" stroke-width="0"/>
<ellipse cx="1244" cy="263.5" rx="12.5" ry="7.8" fill="#a8a0f6" stroke="#3a28c8" stroke-width="1.8"/>
<ellipse cx="1244" cy="263.5" rx="6" ry="3.5" fill="none" stroke="#2f2fe6" stroke-width="1.2"/>
<ellipse cx="1289" cy="265.5" rx="15" ry="10" fill="#a8a0f6" stroke="#3a28c8" stroke-width="1.8"/>
<ellipse cx="1289" cy="265.5" rx="8" ry="5" fill="none" stroke="#2f2fe6" stroke-width="1.2"/>
<path d="M1271,270 L1281,271 L1279.5,305 L1274.5,305 Z" fill="#a0a0f4" stroke="#2f2fe6" stroke-width="1.6" stroke-linejoin="round"/>
<path d="M1240,281 Q1245,273 1256,273 L1259,286.5 Q1248,289 1240,285 Z" fill="#ffa0a0" stroke="#f04040" stroke-width="1.2" stroke-linejoin="round"/>
<path d="M1253.5,247.5 L1296,247.5 L1295,252.5 Q1284,253 1277,255 Q1277,272 1273,281 Q1265,287 1259,283 Q1254,272 1255,256 Z" fill="#f21010" stroke="#d00000" stroke-width="1.2" stroke-linejoin="round"/>
<ellipse cx="1266" cy="264" rx="2.5" ry="3.5" fill="#ffa0a0" stroke="none" stroke-width="0"/>
<path d="M1261.5,288 L1269.5,288 L1269,311 L1262,311 Z" fill="#ffc0c0" stroke="#f04040" stroke-width="1.4" stroke-linejoin="round"/>
<ellipse cx="1259" cy="290" rx="1.5" ry="2.5" fill="#3030c0" stroke="none" stroke-width="0"/>
<ellipse cx="1225" cy="302.5" rx="7" ry="8.6" fill="#ff8080" stroke="#f04040" stroke-width="1.6"/>
<path d="M1267,735 C1274,742 1279,752 1278,760 C1277,770 1272,777 1267,777.6 C1261,777 1256,770 1255,760 C1255,752 1260,742 1267,735 Z" fill="#f01010" stroke="#c80000" stroke-width="1.2" stroke-linejoin="round"/>
<ellipse cx="1267" cy="757" rx="2.2" ry="3" fill="#ff9c9c" stroke="none" stroke-width="0"/>
<ellipse cx="1253" cy="753" rx="2.5" ry="2.5" fill="#d6d6ff" stroke="#2f2fe6" stroke-width="1.6"/>
<ellipse cx="1279" cy="763" rx="2.5" ry="3" fill="#d6d6ff" stroke="#2f2fe6" stroke-width="1.6"/>
<ellipse cx="1111" cy="406.6" rx="6" ry="9.5" fill="#f03838" stroke="#d81818" stroke-width="1.5" transform="rotate(12 1111 406.6)"/>
<ellipse cx="1111" cy="406.6" rx="1.5" ry="3" fill="#ffaaaa" stroke="none" stroke-width="0" transform="rotate(12 1111 406.6)"/>
<ellipse cx="1088" cy="456" rx="1.2" ry="1.2" fill="#b09090" stroke="none" stroke-width="0"/>
<ellipse cx="1026.2" cy="481.9" rx="3.5" ry="5" fill="#ffa0a0" stroke="#f03838" stroke-width="1.4"/>
<ellipse cx="940.5" cy="551.7" rx="5.6" ry="6.3" fill="#9a90f4" stroke="#3a28c8" stroke-width="1.6"/>
<ellipse cx="965" cy="551.5" rx="3.2" ry="6.3" fill="#9a90f4" stroke="#3a28c8" stroke-width="1.6"/>
<path d="M951,559 L957,559 L956.5,569 L951.5,569 Z" fill="#ff8080" stroke="#f03a3a" stroke-width="1.2" stroke-linejoin="round"/>
<path d="M946,541 Q946,537 950,537 L958,537 Q962,537 962,541 L962,556 Q962,561 957,561 L951,561 Q946,561 946,556 Z" fill="#f41010" stroke="#d40000" stroke-width="1.2" stroke-linejoin="round"/>
<ellipse cx="953.7" cy="549" rx="1.8" ry="4" fill="#ffa8a8" stroke="none" stroke-width="0"/>
<ellipse cx="907.6" cy="590.2" rx="2" ry="2" fill="#c06060" stroke="none" stroke-width="0"/>
<ellipse cx="892.6" cy="604.6" rx="3.6" ry="6.2" fill="#fff" stroke="#e02828" stroke-width="2.4"/>
<ellipse cx="850.7" cy="641.7" rx="5" ry="7.8" fill="#f45c5c" stroke="#e02828" stroke-width="1.6"/>
<ellipse cx="834.4" cy="656.9" rx="5.2" ry="7" fill="#f45c5c" stroke="#d01c1c" stroke-width="1.6"/>
<ellipse cx="834.4" cy="656.9" rx="1.8" ry="2" fill="#ffc0c0" stroke="none" stroke-width="0"/>
<ellipse cx="816.9" cy="673.1" rx="4.2" ry="6" fill="#f45c5c" stroke="#e02828" stroke-width="1.6"/>
<defs><linearGradient id="flg" x1="0" y1="0" x2="0" y2="1"><stop offset="0" stop-color="#f46464" stop-opacity="0"/><stop offset="0.55" stop-color="#f46464" stop-opacity="0.75"/><stop offset="1" stop-color="#f25050" stop-opacity="1"/></linearGradient></defs>
<path d="M762,615 Q760,655 754,700 L798,700 Q795,655 793,615 Z" fill="url(#flg)" stroke="none" stroke-width="0" stroke-linejoin="round"/>
<line x1="768" y1="660" x2="768" y2="690" stroke="#ffb0b0" stroke-width="1.6" stroke-dasharray="8 6"/>
<line x1="786" y1="662" x2="786" y2="690" stroke="#ffb0b0" stroke-width="1.6" stroke-dasharray="7 7"/>
<path d="M710,686 L716,681 L726,678.5 L740,676 L752,673 L760,668 L760,702 L752,699 L740,695.5 L726,693.5 L716,691 Z" fill="#ffe2e2" stroke="#f04040" stroke-width="1.2" stroke-linejoin="round"/>
<path d="M720.4,686 L725.2,682 L733.2,680 L744.4,678 L754,675.6 L760.4,671.6 L760.4,698.8 L754,696.4 L744.4,693.6 L733.2,692 L725.2,690 Z" fill="none" stroke="#f04040" stroke-width="1.2" stroke-linejoin="round"/>
<path d="M730.8,686 L734.4,683 L740.4,681.5 L748.8,680 L756,678.2 L760.8,675.2 L760.8,695.6 L756,693.8 L748.8,691.7 L740.4,690.5 L734.4,689 Z" fill="none" stroke="#f04040" stroke-width="1.2" stroke-linejoin="round"/>
<path d="M740.2,686 L742.7,683.9 L746.9,682.9 L752.8,681.8 L757.8,680.5 L761.2,678.4 L761.2,692.7 L757.8,691.5 L752.8,690 L746.9,689.1 L742.7,688.1 Z" fill="none" stroke="#f04040" stroke-width="1.2" stroke-linejoin="round"/>
<path d="M794,711 L810,712.5 L830,713.5 L840,716 L845,720.4 L838,723.5 L826,727 L814,732 L805,740 L800,750 L797,758 L794,745 Z" fill="#ffe2e2" stroke="#f04040" stroke-width="1.2" stroke-linejoin="round"/>
<path d="M794,712 L806.8,713.2 L822.8,714 L830.8,716 L834.8,719.5 L829.2,722 L819.6,724.8 L810,728.8 L802.8,735.2 L798.8,743.2 L796.4,749.6 L794,739.2 Z" fill="none" stroke="#f04040" stroke-width="1.2" stroke-linejoin="round"/>
<path d="M794,713 L803.6,713.9 L815.6,714.5 L821.6,716 L824.6,718.6 L820.4,720.5 L813.2,722.6 L806,725.6 L800.6,730.4 L797.6,736.4 L795.8,741.2 L794,733.4 Z" fill="none" stroke="#f04040" stroke-width="1.2" stroke-linejoin="round"/>
<path d="M794,713.9 L800.7,714.5 L809.1,715 L813.3,716 L815.4,717.8 L812.5,719.1 L807.4,720.6 L802.4,722.7 L798.6,726.1 L796.5,730.3 L795.3,733.6 L794,728.2 Z" fill="none" stroke="#f04040" stroke-width="1.2" stroke-linejoin="round"/>
<path d="M674.5,719 L688,714 L710,711 L730,709 L757,706.5 L760,712 L760,726 L757,729.5 L730,730 L710,727 L688,724.3 Z" fill="#d6d6ff" stroke="#2f2fe6" stroke-width="1.25" stroke-linejoin="round"/>
<path d="M687.3,718.9 L698.8,714.7 L717.5,712.1 L734.5,710.4 L757.5,708.3 L760,713 L760,724.9 L757.5,727.9 L734.5,728.3 L717.5,725.7 L698.8,723.4 Z" fill="none" stroke="#2f2fe6" stroke-width="1.25" stroke-linejoin="round"/>
<path d="M700.1,718.9 L709.6,715.4 L725,713.2 L739,711.9 L757.9,710.1 L760,714 L760,723.8 L757.9,726.2 L739,726.5 L725,724.5 L709.6,722.6 Z" fill="none" stroke="#2f2fe6" stroke-width="1.25" stroke-linejoin="round"/>
<path d="M713,718.8 L720.4,716 L732.5,714.4 L743.5,713.3 L758.4,711.9 L760,714.9 L760,722.6 L758.4,724.5 L743.5,724.8 L732.5,723.2 L720.4,721.7 Z" fill="none" stroke="#2f2fe6" stroke-width="1.25" stroke-linejoin="round"/>
<path d="M725.8,718.7 L731.2,716.7 L740,715.5 L748,714.7 L758.8,713.7 L760,715.9 L760,721.5 L758.8,722.9 L748,723.1 L740,721.9 L731.2,720.8 Z" fill="none" stroke="#2f2fe6" stroke-width="1.25" stroke-linejoin="round"/>
<path d="M793,682 L805,683.2 L820,684 L845,685.5 L856,688 L863.8,691.2 L856,693.5 L845,696 L820,699 L805,704 L795,710 Z" fill="#d6d6ff" stroke="#2f2fe6" stroke-width="1.25" stroke-linejoin="round"/>
<path d="M793,684.5 L802.8,685.5 L815.1,686.2 L835.6,687.4 L844.7,689.4 L851.1,692.1 L844.7,694 L835.6,696 L815.1,698.5 L802.8,702.6 L794.6,707.5 Z" fill="none" stroke="#2f2fe6" stroke-width="1.25" stroke-linejoin="round"/>
<path d="M793,687 L800.7,687.8 L810.3,688.3 L826.3,689.3 L833.3,690.9 L838.3,692.9 L833.3,694.4 L826.3,696 L810.3,697.9 L800.7,701.1 L794.3,705 Z" fill="none" stroke="#2f2fe6" stroke-width="1.25" stroke-linejoin="round"/>
<path d="M793,689.6 L798.5,690.1 L805.4,690.5 L816.9,691.2 L822,692.3 L825.6,693.8 L822,694.9 L816.9,696 L805.4,697.4 L798.5,699.7 L793.9,702.4 Z" fill="none" stroke="#2f2fe6" stroke-width="1.25" stroke-linejoin="round"/>
<path d="M791.5,690 L792,670 L795,655 L798,648 L802,654 L804.5,670 L804,690 Z" fill="#d6d6ff" stroke="#2f2fe6" stroke-width="1.25" stroke-linejoin="round"/>
<path d="M793.5,690 L793.8,676 L795.9,665.5 L798,660.6 L800.8,664.8 L802.5,676 L802.2,690 Z" fill="none" stroke="#2f2fe6" stroke-width="1.25" stroke-linejoin="round"/>
<path d="M795.1,690 L795.3,681 L796.6,674.2 L798,671.1 L799.8,673.8 L800.9,681 L800.7,690 Z" fill="none" stroke="#2f2fe6" stroke-width="1.25" stroke-linejoin="round"/>
<path d="M748,728 L776,728 L773,760 L768,800 L763.5,840 L759,800 L753,765 Z" fill="#d6d6ff" stroke="#2f2fe6" stroke-width="1.25" stroke-linejoin="round"/>
<path d="M750.8,728 L773.2,728 L770.8,753.6 L766.8,785.6 L763.2,817.6 L759.6,785.6 L754.8,757.6 Z" fill="none" stroke="#2f2fe6" stroke-width="1.25" stroke-linejoin="round"/>
<path d="M753.6,728 L770.4,728 L768.6,747.2 L765.6,771.2 L762.9,795.2 L760.2,771.2 L756.6,750.2 Z" fill="none" stroke="#2f2fe6" stroke-width="1.25" stroke-linejoin="round"/>
<path d="M756.4,728 L767.6,728 L766.4,740.8 L764.4,756.8 L762.6,772.8 L760.8,756.8 L758.4,742.8 Z" fill="none" stroke="#2f2fe6" stroke-width="1.25" stroke-linejoin="round"/>
<path d="M757,696 C757,688 764,682 776,682 C788,682 795,688 795,696 L795,724 C792,731 784,733 776,733 C766,733 759,731 757,724 Z" fill="#e00a0a" stroke="#b80000" stroke-width="1.2" stroke-linejoin="round"/>
<path d="M777.5,712 L785,712 L784.5,760 L781.5,792 L778,760 Z" fill="#e8d8ff" stroke="#5a2ad0" stroke-width="1.3" stroke-linejoin="round"/>
<path d="M779.5,716 L783,716 L782.6,760 L781.3,780 L780,760 Z" fill="none" stroke="#6a3ad8" stroke-width="1.1" stroke-linejoin="round"/>
<ellipse cx="774" cy="698" rx="3" ry="5" fill="#6a28c8" stroke="none" stroke-width="0"/>
<ellipse cx="788" cy="703" rx="2.5" ry="5" fill="#ff8a8a" stroke="none" stroke-width="0"/>
<ellipse cx="767" cy="718" rx="2.5" ry="5" fill="#ff8a8a" stroke="none" stroke-width="0"/>
<ellipse cx="750.5" cy="699.6" rx="1.6" ry="1.6" fill="#4040b0" stroke="none" stroke-width="0"/>
<path d="M711,742 Q713,734 722,735 Q732,736 734,744 Q736,752 733,757 Q737,764 733,771 Q728,776 720,775.5 Q711,775 710,766 Q709,756 711,742 Z" fill="#f21414" stroke="#d00000" stroke-width="1.2" stroke-linejoin="round"/>
<ellipse cx="741" cy="739.5" rx="4.8" ry="4.8" fill="#f21414" stroke="#d00000" stroke-width="1.2"/>
<ellipse cx="723" cy="757" rx="2" ry="2.5" fill="#ffa0a0" stroke="none" stroke-width="0"/>
<ellipse cx="704.7" cy="760.1" rx="4.4" ry="4.4" fill="#e0e0ff" stroke="#2f2fe6" stroke-width="1.6"/>
<ellipse cx="688" cy="789.5" rx="2.2" ry="2.2" fill="#f05858" stroke="none" stroke-width="0"/>
<ellipse cx="763.8" cy="852.2" rx="1.6" ry="3" fill="#8080ff" stroke="none" stroke-width="0"/>
<ellipse cx="450.9" cy="756.9" rx="2.6" ry="5.5" fill="#ffb8b8" stroke="#f04848" stroke-width="1.3"/>
<ellipse cx="520.5" cy="941" rx="5.5" ry="7" fill="#fff" stroke="#e83838" stroke-width="2.2" transform="rotate(15 520.5 941)"/>
<ellipse cx="724.5" cy="1002.8" rx="3" ry="3.5" fill="#fff" stroke="#e05858" stroke-width="1.8"/>
<ellipse cx="452" cy="268" rx="1.2" ry="1.2" fill="#c0a0a0" stroke="none" stroke-width="0"/>
<path d="M416,1001 L424,996 L434,993 L442,992.5 L443,1011 L434,1010.5 L424,1007 Z" fill="#b0a8f8" stroke="#3a28c8" stroke-width="1.5" stroke-linejoin="round"/>
<path d="M423.6,1001.3 L429.3,997.7 L436.5,995.5 L442.3,995.2 L443,1008.5 L436.5,1008.1 L429.3,1005.6 Z" fill="none" stroke="#3a28c8" stroke-width="1.5" stroke-linejoin="round"/>
<path d="M430.9,1001.5 L434.4,999.3 L438.9,998 L442.6,997.7 L443,1006 L438.9,1005.8 L434.4,1004.2 Z" fill="none" stroke="#3a28c8" stroke-width="1.5" stroke-linejoin="round"/>
<ellipse cx="465" cy="1007.5" rx="5.5" ry="7" fill="#a098f4" stroke="#3a28c8" stroke-width="1.8"/>
<path d="M454,1012 L461,1012 Q460,1035 457,1051 Q454,1035 454,1012 Z" fill="#8a70e6" stroke="#3030d0" stroke-width="1.3" stroke-linejoin="round"/>
<path d="M446,1018 L453,1018 Q452,1045 450,1065 Q447,1045 446,1018 Z" fill="#ffc0c0" stroke="#f04848" stroke-width="1.3" stroke-linejoin="round"/>
<path d="M452,982 Q451,967 456,967 Q461,967 460,982 Z" fill="#fff" stroke="#f04848" stroke-width="1.8" stroke-linejoin="round"/>
<path d="M443,990 Q444,981 452,980.5 Q462,980 463.5,990 Q464.5,1005 461,1015 Q455,1020 447,1019 Q442.5,1010 443,990 Z" fill="#f01414" stroke="#c80000" stroke-width="1.2" stroke-linejoin="round"/>
<ellipse cx="453.5" cy="990" rx="2" ry="3" fill="#ffa0a0" stroke="none" stroke-width="0"/>
<ellipse cx="451" cy="1006" rx="1.6" ry="3" fill="#ff9090" stroke="none" stroke-width="0"/>
<ellipse cx="449.6" cy="1079" rx="1.8" ry="1.8" fill="#d06060" stroke="none" stroke-width="0"/>
<ellipse cx="437" cy="1017.7" rx="2.5" ry="2.5" fill="#ffc0c0" stroke="none" stroke-width="0"/>
</g>
<ellipse cx="735.6" cy="1361.7" rx="14.5" ry="6.6" fill="#d81212" stroke="#b00606" stroke-width="1.6"/>
<ellipse cx="735.6" cy="1361.7" rx="10.4" ry="4.1" fill="none" stroke="#b80808" stroke-width="1.1"/>
<ellipse cx="735.6" cy="1361.7" rx="6.1" ry="2" fill="#f06a6a" stroke="none" stroke-width="0"/>
<ellipse cx="733.4" cy="1361.7" rx="2" ry="1.1" fill="#ffb0b0" stroke="none" stroke-width="0"/>
<ellipse cx="737.8" cy="1361.7" rx="2" ry="1.1" fill="#ffb0b0" stroke="none" stroke-width="0"/>
<ellipse cx="1230.6" cy="1361.7" rx="12.8" ry="6.8" fill="#d81212" stroke="#b00606" stroke-width="1.6"/>
<ellipse cx="1230.6" cy="1361.7" rx="9.2" ry="4.2" fill="none" stroke="#b80808" stroke-width="1.1"/>
<ellipse cx="1230.6" cy="1361.7" rx="5.4" ry="2" fill="#f06a6a" stroke="none" stroke-width="0"/>
<ellipse cx="1228.7" cy="1361.7" rx="1.7" ry="1.1" fill="#ffb0b0" stroke="none" stroke-width="0"/>
<ellipse cx="1232.5" cy="1361.7" rx="1.7" ry="1.1" fill="#ffb0b0" stroke="none" stroke-width="0"/>
<ellipse cx="1315.2" cy="1361.7" rx="12.8" ry="6.8" fill="#d81212" stroke="#b00606" stroke-width="1.6"/>
<ellipse cx="1315.2" cy="1361.7" rx="9.2" ry="4.2" fill="none" stroke="#b80808" stroke-width="1.1"/>
<ellipse cx="1315.2" cy="1361.7" rx="5.4" ry="2" fill="#f06a6a" stroke="none" stroke-width="0"/>
<ellipse cx="1313.3" cy="1361.7" rx="1.7" ry="1.1" fill="#ffb0b0" stroke="none" stroke-width="0"/>
<ellipse cx="1317.1" cy="1361.7" rx="1.7" ry="1.1" fill="#ffb0b0" stroke="none" stroke-width="0"/>
<path d="M709,1419 Q740,1413.5 790,1416.5 Q840,1413.5 871,1419 Q840,1424.5 790,1421.5 Q740,1424.5 709,1419 Z" fill="#ffb4b4" stroke="#f06060" stroke-width="1.2"/>
<ellipse cx="745.5" cy="1419" rx="28" ry="6.8" fill="#d81212" stroke="#b00606" stroke-width="1.6"/>
<ellipse cx="745.5" cy="1419" rx="20.2" ry="4.2" fill="none" stroke="#b80808" stroke-width="1.1"/>
<ellipse cx="837" cy="1419" rx="29.5" ry="6.8" fill="#d81212" stroke="#b00606" stroke-width="1.6"/>
<ellipse cx="837" cy="1419" rx="21.2" ry="4.2" fill="none" stroke="#b80808" stroke-width="1.1"/>
<ellipse cx="728" cy="1419" rx="2.4" ry="1.6" fill="#ff9c9c" stroke="none" stroke-width="0"/>
<ellipse cx="738" cy="1419" rx="2.4" ry="1.6" fill="#ff9c9c" stroke="none" stroke-width="0"/>
<ellipse cx="750" cy="1419" rx="2.4" ry="1.6" fill="#ff9c9c" stroke="none" stroke-width="0"/>
<ellipse cx="762" cy="1419" rx="2.4" ry="1.6" fill="#ff9c9c" stroke="none" stroke-width="0"/>
<ellipse cx="818" cy="1419" rx="2.4" ry="1.6" fill="#ff9c9c" stroke="none" stroke-width="0"/>
<ellipse cx="830" cy="1419" rx="2.4" ry="1.6" fill="#ff9c9c" stroke="none" stroke-width="0"/>
<ellipse cx="842" cy="1419" rx="2.4" ry="1.6" fill="#ff9c9c" stroke="none" stroke-width="0"/>
<ellipse cx="854" cy="1419" rx="2.4" ry="1.6" fill="#ff9c9c" stroke="none" stroke-width="0"/>
<ellipse cx="962.1" cy="1471.1" rx="4.5" ry="3.2" fill="#ff8080" stroke="#e83030" stroke-width="1.2"/>
<ellipse cx="735.7" cy="1547.5" rx="6.5" ry="4.5" fill="#f03030" stroke="#d01010" stroke-width="1.3"/>
<ellipse cx="466" cy="1547" rx="11" ry="5.6" fill="#d81212" stroke="#b00606" stroke-width="1.6"/>
<ellipse cx="466" cy="1547" rx="7.9" ry="3.5" fill="none" stroke="#b80808" stroke-width="1.1"/>
<ellipse cx="466" cy="1547" rx="4.6" ry="1.7" fill="#f06a6a" stroke="none" stroke-width="0"/>
<ellipse cx="464.4" cy="1547" rx="1.2" ry="0.8" fill="#ffb0b0" stroke="none" stroke-width="0"/>
<ellipse cx="467.6" cy="1547" rx="1.2" ry="0.8" fill="#ffb0b0" stroke="none" stroke-width="0"/>
<ellipse cx="465" cy="1565" rx="14.8" ry="6.5" fill="#d81212" stroke="#b00606" stroke-width="1.6"/>
<ellipse cx="465" cy="1565" rx="10.7" ry="4" fill="none" stroke="#b80808" stroke-width="1.1"/>
<ellipse cx="465" cy="1565" rx="6.2" ry="1.9" fill="#f06a6a" stroke="none" stroke-width="0"/>
<ellipse cx="462.8" cy="1565" rx="2" ry="1.1" fill="#ffb0b0" stroke="none" stroke-width="0"/>
<ellipse cx="467.2" cy="1565" rx="2" ry="1.1" fill="#ffb0b0" stroke="none" stroke-width="0"/>
<ellipse cx="1272.8" cy="1562.6" rx="15.2" ry="11.2" fill="#d81212" stroke="#b00606" stroke-width="1.6"/>
<ellipse cx="1272.8" cy="1562.6" rx="10.9" ry="6.9" fill="none" stroke="#b80808" stroke-width="1.1"/>
<ellipse cx="1272.8" cy="1562.6" rx="6.4" ry="3.4" fill="#f06a6a" stroke="none" stroke-width="0"/>
<ellipse cx="1270.5" cy="1562.6" rx="1.9" ry="1.7" fill="#ffb0b0" stroke="none" stroke-width="0"/>
<ellipse cx="1275.1" cy="1562.6" rx="1.9" ry="1.7" fill="#ffb0b0" stroke="none" stroke-width="0"/>
<ellipse cx="779.3" cy="2005" rx="11.5" ry="7.8" fill="#d81212" stroke="#b00606" stroke-width="1.6"/>
<ellipse cx="779.3" cy="2005" rx="8.3" ry="4.8" fill="none" stroke="#b80808" stroke-width="1.1"/>
<ellipse cx="779.3" cy="2005" rx="4.8" ry="2.3" fill="#f06a6a" stroke="none" stroke-width="0"/>
<ellipse cx="777.6" cy="2005" rx="1.8" ry="1.5" fill="#ffb0b0" stroke="none" stroke-width="0"/>
<ellipse cx="781" cy="2005" rx="1.8" ry="1.5" fill="#ffb0b0" stroke="none" stroke-width="0"/>
<ellipse cx="800" cy="2005" rx="11.2" ry="7.8" fill="#d81212" stroke="#b00606" stroke-width="1.6"/>
<ellipse cx="800" cy="2005" rx="8.1" ry="4.8" fill="none" stroke="#b80808" stroke-width="1.1"/>
<ellipse cx="800" cy="2005" rx="4.7" ry="2.3" fill="#f06a6a" stroke="none" stroke-width="0"/>
<ellipse cx="798.3" cy="2005" rx="1.8" ry="1.5" fill="#ffb0b0" stroke="none" stroke-width="0"/>
<ellipse cx="801.7" cy="2005" rx="1.8" ry="1.5" fill="#ffb0b0" stroke="none" stroke-width="0"/>
<ellipse cx="798.3" cy="2065.6" rx="11.2" ry="8.5" fill="#d81212" stroke="#b00606" stroke-width="1.6"/>
<ellipse cx="798.3" cy="2065.6" rx="8.1" ry="5.3" fill="none" stroke="#b80808" stroke-width="1.1"/>
<ellipse cx="798.3" cy="2065.6" rx="4.7" ry="2.5" fill="#f06a6a" stroke="none" stroke-width="0"/>
<ellipse cx="796.6" cy="2065.6" rx="1.5" ry="1.4" fill="#ffb0b0" stroke="none" stroke-width="0"/>
<ellipse cx="800" cy="2065.6" rx="1.5" ry="1.4" fill="#ffb0b0" stroke="none" stroke-width="0"/>
<ellipse cx="780.4" cy="2077.5" rx="12.5" ry="7.8" fill="#d81212" stroke="#b00606" stroke-width="1.6"/>
<ellipse cx="780.4" cy="2077.5" rx="9" ry="4.8" fill="none" stroke="#b80808" stroke-width="1.1"/>
<ellipse cx="780.4" cy="2077.5" rx="5.2" ry="2.3" fill="#f06a6a" stroke="none" stroke-width="0"/>
<ellipse cx="778.5" cy="2077.5" rx="1.7" ry="1.3" fill="#ffb0b0" stroke="none" stroke-width="0"/>
<ellipse cx="782.3" cy="2077.5" rx="1.7" ry="1.3" fill="#ffb0b0" stroke="none" stroke-width="0"/>
<ellipse cx="735.5" cy="2108.3" rx="13.8" ry="7.3" fill="#d81212" stroke="#b00606" stroke-width="1.6"/>
<ellipse cx="735.5" cy="2108.3" rx="9.9" ry="4.5" fill="none" stroke="#b80808" stroke-width="1.1"/>
<ellipse cx="735.5" cy="2108.3" rx="5.8" ry="2.2" fill="#f06a6a" stroke="none" stroke-width="0"/>
<ellipse cx="733.4" cy="2108.3" rx="2.2" ry="1.4" fill="#ffb0b0" stroke="none" stroke-width="0"/>
<ellipse cx="737.6" cy="2108.3" rx="2.2" ry="1.4" fill="#ffb0b0" stroke="none" stroke-width="0"/>
<ellipse cx="466.5" cy="2064.5" rx="11.8" ry="7" fill="#d81212" stroke="#b00606" stroke-width="1.6"/>
<ellipse cx="466.5" cy="2064.5" rx="8.5" ry="4.3" fill="none" stroke="#b80808" stroke-width="1.1"/>
<ellipse cx="466.5" cy="2064.5" rx="5" ry="2.1" fill="#f06a6a" stroke="none" stroke-width="0"/>
<ellipse cx="464.7" cy="2064.5" rx="1.9" ry="1.3" fill="#ffb0b0" stroke="none" stroke-width="0"/>
<ellipse cx="468.3" cy="2064.5" rx="1.9" ry="1.3" fill="#ffb0b0" stroke="none" stroke-width="0"/>
<ellipse cx="466.5" cy="2077.5" rx="11.8" ry="7" fill="#d81212" stroke="#b00606" stroke-width="1.6"/>
<ellipse cx="466.5" cy="2077.5" rx="8.5" ry="4.3" fill="none" stroke="#b80808" stroke-width="1.1"/>
<ellipse cx="466.5" cy="2077.5" rx="5" ry="2.1" fill="#f06a6a" stroke="none" stroke-width="0"/>
<ellipse cx="464.7" cy="2077.5" rx="1.9" ry="1.3" fill="#ffb0b0" stroke="none" stroke-width="0"/>
<ellipse cx="468.3" cy="2077.5" rx="1.9" ry="1.3" fill="#ffb0b0" stroke="none" stroke-width="0"/>
<ellipse cx="1272.6" cy="2108.8" rx="15" ry="10.5" fill="#d81212" stroke="#b00606" stroke-width="1.6"/>
<ellipse cx="1272.6" cy="2108.8" rx="10.8" ry="6.5" fill="none" stroke="#b80808" stroke-width="1.1"/>
<ellipse cx="1272.6" cy="2108.8" rx="6.3" ry="3.1" fill="#f06a6a" stroke="none" stroke-width="0"/>
<ellipse cx="1270.3" cy="2108.8" rx="2" ry="1.7" fill="#ffb0b0" stroke="none" stroke-width="0"/>
<ellipse cx="1274.8" cy="2108.8" rx="2" ry="1.7" fill="#ffb0b0" stroke="none" stroke-width="0"/>
<ellipse cx="450.6" cy="2591.8" rx="4.4" ry="18.6" fill="#fff0f0" stroke="#f23a3a" stroke-width="4.8"/>
<ellipse cx="450.6" cy="2591.8" rx="3.2" ry="18.1" fill="none" stroke="#c81818" stroke-width="1.1"/>
<ellipse cx="450.6" cy="2591.8" rx="6.2" ry="20.4" fill="none" stroke="#ff9090" stroke-width="1"/>
<ellipse cx="491" cy="2592.6" rx="4.5" ry="17.8" fill="#fff0f0" stroke="#f23a3a" stroke-width="4.8"/>
<ellipse cx="491" cy="2592.6" rx="3.3" ry="17.3" fill="none" stroke="#c81818" stroke-width="1.1"/>
<ellipse cx="491" cy="2592.6" rx="6.3" ry="19.6" fill="none" stroke="#ff9090" stroke-width="1"/>
<ellipse cx="450.6" cy="2564" rx="1.5" ry="1.8" fill="#c04040" stroke="none" stroke-width="0"/>
<ellipse cx="450.6" cy="2620" rx="1.5" ry="1.8" fill="#c04040" stroke="none" stroke-width="0"/>
<ellipse cx="491" cy="2564" rx="1.5" ry="1.8" fill="#c04040" stroke="none" stroke-width="0"/>
<ellipse cx="491" cy="2620" rx="1.5" ry="1.8" fill="#c04040" stroke="none" stroke-width="0"/>
<ellipse cx="734.5" cy="2588" rx="5.7" ry="13.2" fill="#fff0f0" stroke="#f23a3a" stroke-width="3.6"/>
<ellipse cx="734.5" cy="2588" rx="4.8" ry="12.8" fill="none" stroke="#c81818" stroke-width="1.1"/>
<ellipse cx="734.5" cy="2588" rx="6.9" ry="14.4" fill="none" stroke="#ff9090" stroke-width="1"/>
<ellipse cx="744" cy="2596" rx="4.3" ry="11.8" fill="#fff0f0" stroke="#f23a3a" stroke-width="3.4"/>
<ellipse cx="744" cy="2596" rx="3.5" ry="11.5" fill="none" stroke="#c81818" stroke-width="1.1"/>
<ellipse cx="744" cy="2596" rx="5.4" ry="12.9" fill="none" stroke="#ff9090" stroke-width="1"/>
<ellipse cx="470.8" cy="2767.6" rx="5.6" ry="19.1" fill="#fff0f0" stroke="#f23a3a" stroke-width="4.8"/>
<ellipse cx="470.8" cy="2767.6" rx="4.4" ry="18.6" fill="none" stroke="#c81818" stroke-width="1.1"/>
<ellipse cx="470.8" cy="2767.6" rx="7.4" ry="20.9" fill="none" stroke="#ff9090" stroke-width="1"/>
<ellipse cx="470.6" cy="2737.5" rx="4" ry="4.2" fill="#fff0f0" stroke="#f23a3a" stroke-width="2.6"/>
<ellipse cx="470.6" cy="2737.5" rx="3.3" ry="3.9" fill="none" stroke="#c81818" stroke-width="1.1"/>
<ellipse cx="470.6" cy="2737.5" rx="4.7" ry="4.9" fill="none" stroke="#ff9090" stroke-width="1"/>
<ellipse cx="470.6" cy="2794.7" rx="4" ry="4.5" fill="#fff0f0" stroke="#f23a3a" stroke-width="2.6"/>
<ellipse cx="470.6" cy="2794.7" rx="3.3" ry="4.2" fill="none" stroke="#c81818" stroke-width="1.1"/>
<ellipse cx="470.6" cy="2794.7" rx="4.7" ry="5.2" fill="none" stroke="#ff9090" stroke-width="1"/>
<ellipse cx="470.6" cy="2724" rx="2.3" ry="2.8" fill="#e04040" stroke="none" stroke-width="0"/>
<ellipse cx="470.6" cy="2808" rx="2.3" ry="4" fill="#e04040" stroke="none" stroke-width="0"/>
<ellipse cx="738" cy="2764.2" rx="5.1" ry="11.4" fill="#fff0f0" stroke="#f23a3a" stroke-width="2.4"/>
<ellipse cx="738" cy="2764.2" rx="4.5" ry="11.2" fill="none" stroke="#c81818" stroke-width="1.1"/>
<ellipse cx="738" cy="2764.2" rx="5.7" ry="12" fill="none" stroke="#ff9090" stroke-width="1"/>
<ellipse cx="738" cy="2764.2" rx="2" ry="8" fill="none" stroke="#e82020" stroke-width="1.2"/>
<ellipse cx="1257" cy="2767" rx="7" ry="17" fill="#ffb0b0" stroke="#e84040" stroke-width="1.4"/>
<ellipse cx="1287.5" cy="2767" rx="6" ry="17" fill="#ffb0b0" stroke="#e84040" stroke-width="1.4"/>
<path d="M1265.5,2697 Q1265.5,2690 1272.5,2690 Q1279.5,2690 1279.5,2697 L1280.5,2744 Q1286,2754 1286,2767 Q1286,2780 1280.5,2790 L1279.5,2838 Q1279.5,2845 1272.5,2845 Q1265.5,2845 1265.5,2838 L1264.5,2790 Q1259,2780 1259,2767 Q1259,2754 1264.5,2744 Z" fill="#f25c5c" stroke="#dc2020" stroke-width="1.3"/>
<ellipse cx="1268.9" cy="2694.3" rx="1.4" ry="1.5" fill="#ffc0c0" stroke="none" stroke-width="0"/>
<ellipse cx="1276" cy="2694.1" rx="1.4" ry="1.5" fill="#ffc0c0" stroke="none" stroke-width="0"/>
<ellipse cx="1269.4" cy="2698.7" rx="1.4" ry="1.5" fill="#ffc0c0" stroke="none" stroke-width="0"/>
<ellipse cx="1274.8" cy="2699" rx="1.4" ry="1.5" fill="#ffc0c0" stroke="none" stroke-width="0"/>
<ellipse cx="1268.4" cy="2702.9" rx="1.4" ry="1.5" fill="#ffc0c0" stroke="none" stroke-width="0"/>
<ellipse cx="1274.8" cy="2702.2" rx="1.4" ry="1.5" fill="#ffc0c0" stroke="none" stroke-width="0"/>
<ellipse cx="1269.1" cy="2707.7" rx="1.4" ry="1.5" fill="#ffc0c0" stroke="none" stroke-width="0"/>
<ellipse cx="1274.9" cy="2706.4" rx="1.4" ry="1.5" fill="#ffc0c0" stroke="none" stroke-width="0"/>
<ellipse cx="1269.6" cy="2711.9" rx="1.4" ry="1.5" fill="#ffc0c0" stroke="none" stroke-width="0"/>
<ellipse cx="1275.9" cy="2710.8" rx="1.4" ry="1.5" fill="#ffc0c0" stroke="none" stroke-width="0"/>
<ellipse cx="1270.3" cy="2714.1" rx="1.4" ry="1.5" fill="#ffc0c0" stroke="none" stroke-width="0"/>
<ellipse cx="1276.4" cy="2714.6" rx="1.4" ry="1.5" fill="#ffc0c0" stroke="none" stroke-width="0"/>
<ellipse cx="1268.6" cy="2718.2" rx="1.4" ry="1.5" fill="#ffc0c0" stroke="none" stroke-width="0"/>
<ellipse cx="1275.3" cy="2719.6" rx="1.4" ry="1.5" fill="#ffc0c0" stroke="none" stroke-width="0"/>
<ellipse cx="1268.7" cy="2723.2" rx="1.4" ry="1.5" fill="#ffc0c0" stroke="none" stroke-width="0"/>
<ellipse cx="1276" cy="2722.7" rx="1.4" ry="1.5" fill="#ffc0c0" stroke="none" stroke-width="0"/>
<ellipse cx="1269.4" cy="2726.1" rx="1.4" ry="1.5" fill="#ffc0c0" stroke="none" stroke-width="0"/>
<ellipse cx="1274.8" cy="2726.4" rx="1.4" ry="1.5" fill="#ffc0c0" stroke="none" stroke-width="0"/>
<ellipse cx="1269.7" cy="2730.9" rx="1.4" ry="1.5" fill="#ffc0c0" stroke="none" stroke-width="0"/>
<ellipse cx="1275.3" cy="2731.2" rx="1.4" ry="1.5" fill="#ffc0c0" stroke="none" stroke-width="0"/>
<ellipse cx="1269.2" cy="2734.6" rx="1.4" ry="1.5" fill="#ffc0c0" stroke="none" stroke-width="0"/>
<ellipse cx="1276.3" cy="2735.4" rx="1.4" ry="1.5" fill="#ffc0c0" stroke="none" stroke-width="0"/>
<ellipse cx="1268.8" cy="2739.1" rx="1.4" ry="1.5" fill="#ffc0c0" stroke="none" stroke-width="0"/>
<ellipse cx="1275.8" cy="2739.8" rx="1.4" ry="1.5" fill="#ffc0c0" stroke="none" stroke-width="0"/>
<ellipse cx="1269.8" cy="2742.6" rx="1.4" ry="1.5" fill="#ffc0c0" stroke="none" stroke-width="0"/>
<ellipse cx="1276.7" cy="2742.2" rx="1.4" ry="1.5" fill="#ffc0c0" stroke="none" stroke-width="0"/>
<ellipse cx="1269.1" cy="2747.5" rx="1.4" ry="1.5" fill="#ffc0c0" stroke="none" stroke-width="0"/>
<ellipse cx="1275" cy="2747" rx="1.4" ry="1.5" fill="#ffc0c0" stroke="none" stroke-width="0"/>
<ellipse cx="1268.4" cy="2751.3" rx="1.4" ry="1.5" fill="#ffc0c0" stroke="none" stroke-width="0"/>
<ellipse cx="1276.2" cy="2751.1" rx="1.4" ry="1.5" fill="#ffc0c0" stroke="none" stroke-width="0"/>
<ellipse cx="1270.1" cy="2754.6" rx="1.4" ry="1.5" fill="#ffc0c0" stroke="none" stroke-width="0"/>
<ellipse cx="1276.1" cy="2755.2" rx="1.4" ry="1.5" fill="#ffc0c0" stroke="none" stroke-width="0"/>
<ellipse cx="1269.5" cy="2758.9" rx="1.4" ry="1.5" fill="#ffc0c0" stroke="none" stroke-width="0"/>
<ellipse cx="1276.4" cy="2759.9" rx="1.4" ry="1.5" fill="#ffc0c0" stroke="none" stroke-width="0"/>
<ellipse cx="1269.2" cy="2763.3" rx="1.4" ry="1.5" fill="#ffc0c0" stroke="none" stroke-width="0"/>
<ellipse cx="1274.8" cy="2763.4" rx="1.4" ry="1.5" fill="#ffc0c0" stroke="none" stroke-width="0"/>
<ellipse cx="1269.6" cy="2768" rx="1.4" ry="1.5" fill="#ffc0c0" stroke="none" stroke-width="0"/>
<ellipse cx="1276.3" cy="2766.6" rx="1.4" ry="1.5" fill="#ffc0c0" stroke="none" stroke-width="0"/>
<ellipse cx="1269.1" cy="2771.3" rx="1.4" ry="1.5" fill="#ffc0c0" stroke="none" stroke-width="0"/>
<ellipse cx="1274.7" cy="2770.9" rx="1.4" ry="1.5" fill="#ffc0c0" stroke="none" stroke-width="0"/>
<ellipse cx="1268.6" cy="2774.2" rx="1.4" ry="1.5" fill="#ffc0c0" stroke="none" stroke-width="0"/>
<ellipse cx="1274.8" cy="2775.5" rx="1.4" ry="1.5" fill="#ffc0c0" stroke="none" stroke-width="0"/>
<ellipse cx="1268.6" cy="2778.5" rx="1.4" ry="1.5" fill="#ffc0c0" stroke="none" stroke-width="0"/>
<ellipse cx="1275.5" cy="2779.7" rx="1.4" ry="1.5" fill="#ffc0c0" stroke="none" stroke-width="0"/>
<ellipse cx="1268.5" cy="2782.9" rx="1.4" ry="1.5" fill="#ffc0c0" stroke="none" stroke-width="0"/>
<ellipse cx="1275.8" cy="2783.8" rx="1.4" ry="1.5" fill="#ffc0c0" stroke="none" stroke-width="0"/>
<ellipse cx="1269.9" cy="2787.7" rx="1.4" ry="1.5" fill="#ffc0c0" stroke="none" stroke-width="0"/>
<ellipse cx="1275.3" cy="2786.8" rx="1.4" ry="1.5" fill="#ffc0c0" stroke="none" stroke-width="0"/>
<ellipse cx="1269" cy="2791.8" rx="1.4" ry="1.5" fill="#ffc0c0" stroke="none" stroke-width="0"/>
<ellipse cx="1276.6" cy="2790.3" rx="1.4" ry="1.5" fill="#ffc0c0" stroke="none" stroke-width="0"/>
<ellipse cx="1268.7" cy="2794.5" rx="1.4" ry="1.5" fill="#ffc0c0" stroke="none" stroke-width="0"/>
<ellipse cx="1275.2" cy="2795" rx="1.4" ry="1.5" fill="#ffc0c0" stroke="none" stroke-width="0"/>
<ellipse cx="1269.5" cy="2798.5" rx="1.4" ry="1.5" fill="#ffc0c0" stroke="none" stroke-width="0"/>
<ellipse cx="1274.7" cy="2798.8" rx="1.4" ry="1.5" fill="#ffc0c0" stroke="none" stroke-width="0"/>
<ellipse cx="1269" cy="2803.1" rx="1.4" ry="1.5" fill="#ffc0c0" stroke="none" stroke-width="0"/>
<ellipse cx="1276.6" cy="2803.4" rx="1.4" ry="1.5" fill="#ffc0c0" stroke="none" stroke-width="0"/>
<ellipse cx="1269.3" cy="2807.2" rx="1.4" ry="1.5" fill="#ffc0c0" stroke="none" stroke-width="0"/>
<ellipse cx="1276.1" cy="2806.1" rx="1.4" ry="1.5" fill="#ffc0c0" stroke="none" stroke-width="0"/>
<ellipse cx="1270.1" cy="2811.6" rx="1.4" ry="1.5" fill="#ffc0c0" stroke="none" stroke-width="0"/>
<ellipse cx="1276.4" cy="2811.6" rx="1.4" ry="1.5" fill="#ffc0c0" stroke="none" stroke-width="0"/>
<ellipse cx="1269.1" cy="2814.8" rx="1.4" ry="1.5" fill="#ffc0c0" stroke="none" stroke-width="0"/>
<ellipse cx="1274.9" cy="2815.3" rx="1.4" ry="1.5" fill="#ffc0c0" stroke="none" stroke-width="0"/>
<ellipse cx="1268.4" cy="2818.1" rx="1.4" ry="1.5" fill="#ffc0c0" stroke="none" stroke-width="0"/>
<ellipse cx="1275.1" cy="2818.3" rx="1.4" ry="1.5" fill="#ffc0c0" stroke="none" stroke-width="0"/>
<ellipse cx="1269" cy="2822.1" rx="1.4" ry="1.5" fill="#ffc0c0" stroke="none" stroke-width="0"/>
<ellipse cx="1274.7" cy="2822.3" rx="1.4" ry="1.5" fill="#ffc0c0" stroke="none" stroke-width="0"/>
<ellipse cx="1268.5" cy="2826.7" rx="1.4" ry="1.5" fill="#ffc0c0" stroke="none" stroke-width="0"/>
<ellipse cx="1274.8" cy="2827.7" rx="1.4" ry="1.5" fill="#ffc0c0" stroke="none" stroke-width="0"/>
<ellipse cx="1269.5" cy="2830.3" rx="1.4" ry="1.5" fill="#ffc0c0" stroke="none" stroke-width="0"/>
<ellipse cx="1275.2" cy="2830.7" rx="1.4" ry="1.5" fill="#ffc0c0" stroke="none" stroke-width="0"/>
<ellipse cx="1269" cy="2834.2" rx="1.4" ry="1.5" fill="#ffc0c0" stroke="none" stroke-width="0"/>
<ellipse cx="1276.4" cy="2836" rx="1.4" ry="1.5" fill="#ffc0c0" stroke="none" stroke-width="0"/>
<ellipse cx="1269.2" cy="2839" rx="1.4" ry="1.5" fill="#ffc0c0" stroke="none" stroke-width="0"/>
<ellipse cx="1274.9" cy="2838.2" rx="1.4" ry="1.5" fill="#ffc0c0" stroke="none" stroke-width="0"/>
<ellipse cx="1272.5" cy="2767" rx="3" ry="6" fill="#a00000" stroke="none" stroke-width="0"/>
<ellipse cx="1272.5" cy="2683.5" rx="5.3" ry="3.8" fill="#fff0f0" stroke="#f23a3a" stroke-width="2.4"/>
<ellipse cx="1272.5" cy="2683.5" rx="4.7" ry="3.6" fill="none" stroke="#c81818" stroke-width="1.1"/>
<ellipse cx="1272.5" cy="2683.5" rx="5.9" ry="4.4" fill="none" stroke="#ff9090" stroke-width="1"/>
<ellipse cx="1272.5" cy="2851.5" rx="5.3" ry="3.8" fill="#fff0f0" stroke="#f23a3a" stroke-width="2.4"/>
<ellipse cx="1272.5" cy="2851.5" rx="4.7" ry="3.6" fill="none" stroke="#c81818" stroke-width="1.1"/>
<ellipse cx="1272.5" cy="2851.5" rx="5.9" ry="4.4" fill="none" stroke="#ff9090" stroke-width="1"/>
<ellipse cx="1273" cy="2675" rx="1.5" ry="1.5" fill="#c06060" stroke="none" stroke-width="0"/>
<ellipse cx="777.8" cy="2958.5" rx="6.1" ry="33.6" fill="#fff0f0" stroke="#f23a3a" stroke-width="4.8"/>
<ellipse cx="777.8" cy="2958.5" rx="4.9" ry="33.1" fill="none" stroke="#c81818" stroke-width="1.1"/>
<ellipse cx="777.8" cy="2958.5" rx="7.9" ry="35.4" fill="none" stroke="#ff9090" stroke-width="1"/>
<ellipse cx="797.2" cy="2978.7" rx="5.6" ry="24.1" fill="#fff0f0" stroke="#f23a3a" stroke-width="4.8"/>
<ellipse cx="797.2" cy="2978.7" rx="4.4" ry="23.6" fill="none" stroke="#c81818" stroke-width="1.1"/>
<ellipse cx="797.2" cy="2978.7" rx="7.4" ry="25.9" fill="none" stroke="#ff9090" stroke-width="1"/>
<ellipse cx="797" cy="3014" rx="4" ry="7.5" fill="#fff0f0" stroke="#f23a3a" stroke-width="3"/>
<ellipse cx="797" cy="3014" rx="3.2" ry="7.2" fill="none" stroke="#c81818" stroke-width="1.1"/>
<ellipse cx="797" cy="3014" rx="4.9" ry="8.4" fill="none" stroke="#ff9090" stroke-width="1"/>
<ellipse cx="777.5" cy="3001.7" rx="3.4" ry="2.9" fill="#fff0f0" stroke="#f23a3a" stroke-width="2.2"/>
<ellipse cx="777.5" cy="3001.7" rx="2.8" ry="2.7" fill="none" stroke="#c81818" stroke-width="1.1"/>
<ellipse cx="777.5" cy="3001.7" rx="3.9" ry="3.4" fill="none" stroke="#ff9090" stroke-width="1"/>
<ellipse cx="777.8" cy="2916.4" rx="2.2" ry="2.4" fill="#b04040" stroke="none" stroke-width="0"/>
<ellipse cx="797" cy="2943" rx="3.2" ry="3.9" fill="#fff0f0" stroke="#f23a3a" stroke-width="2.2"/>
<ellipse cx="797" cy="2943" rx="2.6" ry="3.7" fill="none" stroke="#c81818" stroke-width="1.1"/>
<ellipse cx="797" cy="2943" rx="3.7" ry="4.4" fill="none" stroke="#ff9090" stroke-width="1"/>
<ellipse cx="797" cy="3030" rx="3.2" ry="3.9" fill="#fff0f0" stroke="#f23a3a" stroke-width="2.2"/>
<ellipse cx="797" cy="3030" rx="2.6" ry="3.7" fill="none" stroke="#c81818" stroke-width="1.1"/>
<ellipse cx="797" cy="3030" rx="3.7" ry="4.4" fill="none" stroke="#ff9090" stroke-width="1"/>
</svg></body></html>
